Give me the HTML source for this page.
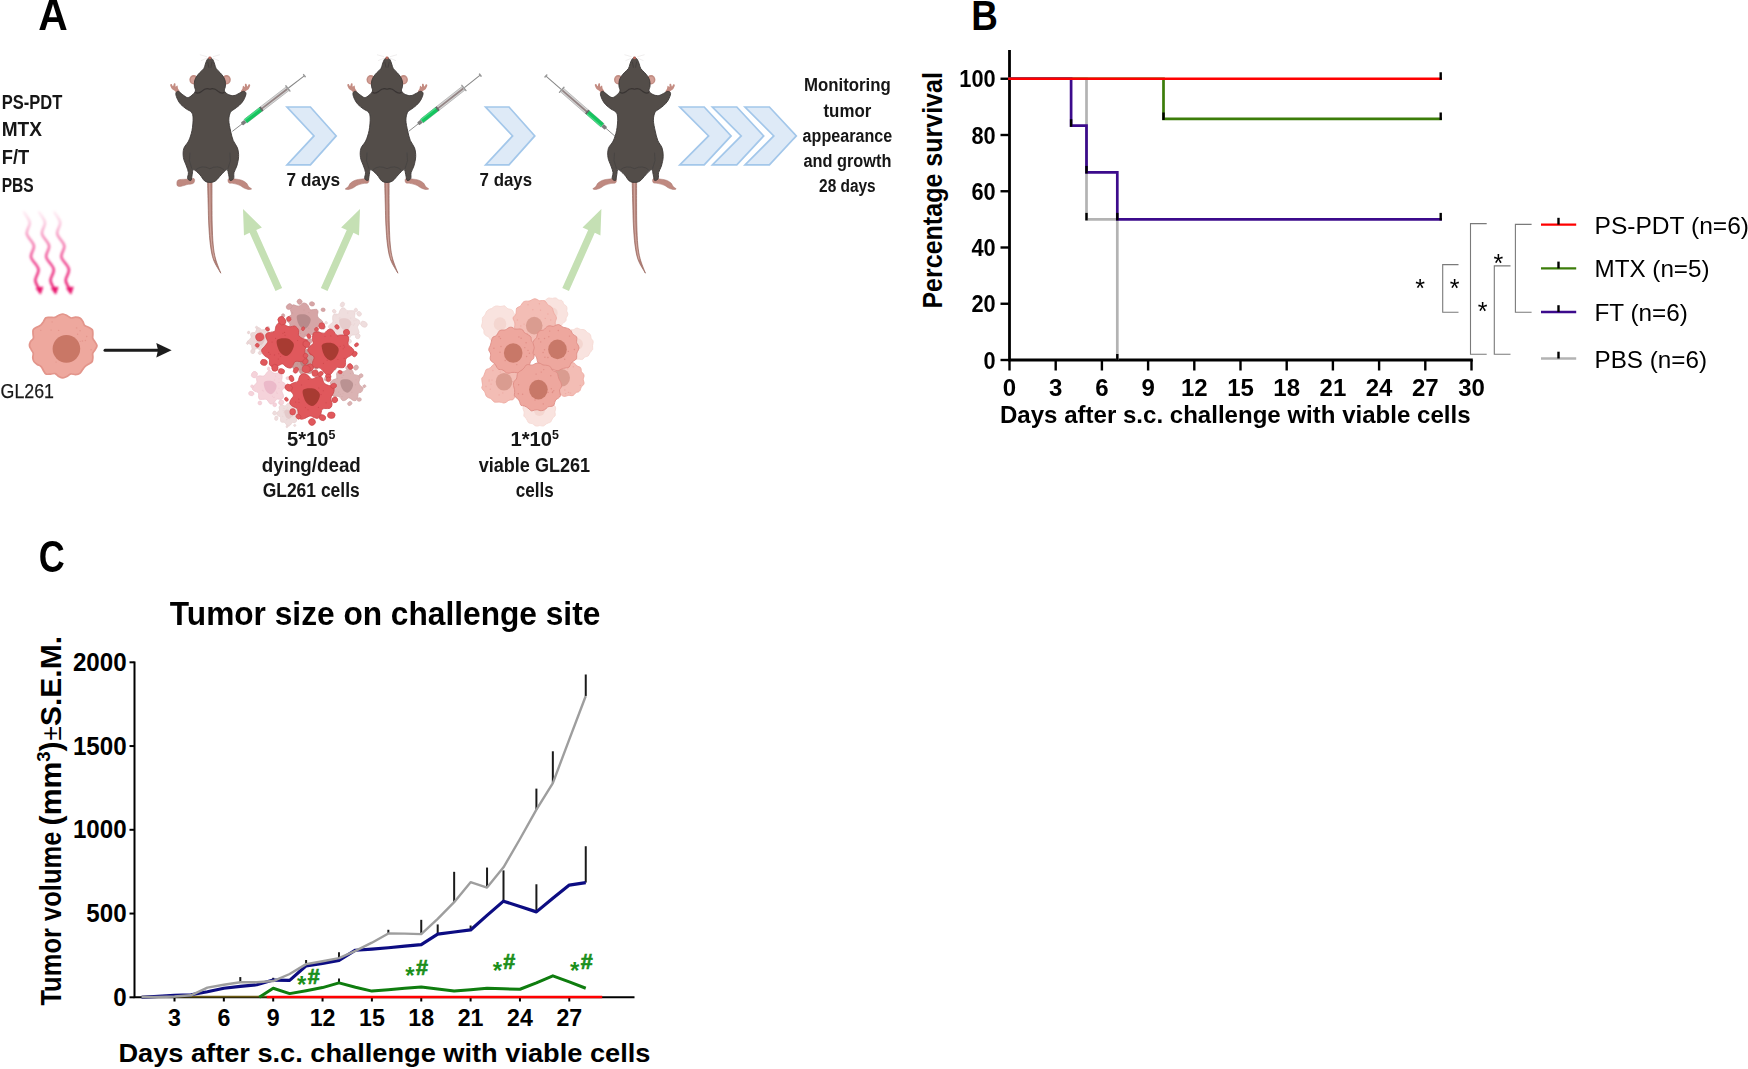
<!DOCTYPE html>
<html lang="en">
<head>
<meta charset="utf-8">
<title>Figure</title>
<style>
html,body{margin:0;padding:0;background:#fff;}
body{width:1748px;height:1069px;overflow:hidden;}
svg{display:block;font-family:"Liberation Sans", sans-serif;}
</style>
</head>
<body>
<svg width="1748" height="1069" viewBox="0 0 1748 1069">
<rect width="1748" height="1069" fill="#fff"/>
<defs>
<filter id="soft" x="-5%" y="-5%" width="110%" height="110%"><feGaussianBlur stdDeviation="0.7"/></filter>
<filter id="soft2" x="-20%" y="-10%" width="140%" height="120%"><feGaussianBlur stdDeviation="0.9"/></filter>
<filter id="tsoft" x="-5%" y="-20%" width="110%" height="140%"><feGaussianBlur stdDeviation="0.5"/></filter>
<linearGradient id="pinkg" gradientUnits="userSpaceOnUse" x1="0" y1="210" x2="0" y2="292"><stop offset="0" stop-color="#f9a8cc" stop-opacity="0.15"/><stop offset="0.3" stop-color="#f47fb2" stop-opacity="0.8"/><stop offset="0.65" stop-color="#ee3f8c"/><stop offset="1" stop-color="#e8156d"/></linearGradient>
</defs>
<g id="panelA">
<g filter="url(#tsoft)">
<text x="38.2" y="29.9" font-size="44.6" font-weight="bold" text-anchor="start" fill="#000" textLength="29.5" lengthAdjust="spacingAndGlyphs">A</text>
<text x="1.7" y="109" font-size="20.3" font-weight="bold" text-anchor="start" fill="#141414" textLength="60.6" lengthAdjust="spacingAndGlyphs">PS-PDT</text>
<text x="1.7" y="136.2" font-size="20.3" font-weight="bold" text-anchor="start" fill="#141414" textLength="40.3" lengthAdjust="spacingAndGlyphs">MTX</text>
<text x="1.7" y="163.7" font-size="20.3" font-weight="bold" text-anchor="start" fill="#141414" textLength="27.5" lengthAdjust="spacingAndGlyphs">F/T</text>
<text x="1.7" y="191.5" font-size="20.3" font-weight="bold" text-anchor="start" fill="#141414" textLength="32" lengthAdjust="spacingAndGlyphs">PBS</text>
<text x="0.6" y="398.3" font-size="21" font-weight="normal" text-anchor="start" fill="#1a1a1a" textLength="53.4" lengthAdjust="spacingAndGlyphs" stroke="#1a1a1a" stroke-width="0.25">GL261</text>
<text x="286.6" y="185.6" font-size="18.6" font-weight="bold" text-anchor="start" fill="#141414" textLength="53.6" lengthAdjust="spacingAndGlyphs">7 days</text>
<text x="479.6" y="185.6" font-size="18.6" font-weight="bold" text-anchor="start" fill="#141414" textLength="52.4" lengthAdjust="spacingAndGlyphs">7 days</text>
<text x="847.4" y="91" font-size="17.6" font-weight="bold" text-anchor="middle" fill="#141414" textLength="86.7" lengthAdjust="spacingAndGlyphs">Monitoring</text>
<text x="847.4" y="116.6" font-size="17.6" font-weight="bold" text-anchor="middle" fill="#141414" textLength="47.8" lengthAdjust="spacingAndGlyphs">tumor</text>
<text x="847.4" y="142" font-size="17.6" font-weight="bold" text-anchor="middle" fill="#141414" textLength="89.6" lengthAdjust="spacingAndGlyphs">appearance</text>
<text x="847.4" y="167.3" font-size="17.6" font-weight="bold" text-anchor="middle" fill="#141414" textLength="88" lengthAdjust="spacingAndGlyphs">and growth</text>
<text x="847.4" y="192.4" font-size="17.6" font-weight="bold" text-anchor="middle" fill="#141414" textLength="56.6" lengthAdjust="spacingAndGlyphs">28 days</text>
<text x="287" y="446" font-size="19.5" font-weight="bold" fill="#141414" textLength="48.5" lengthAdjust="spacingAndGlyphs">5*10<tspan font-size="12" dy="-7">5</tspan></text>
<text x="311.3" y="471.7" font-size="19.5" font-weight="bold" text-anchor="middle" fill="#141414" textLength="99" lengthAdjust="spacingAndGlyphs">dying/dead</text>
<text x="311.2" y="496.6" font-size="19.5" font-weight="bold" text-anchor="middle" fill="#141414" textLength="97" lengthAdjust="spacingAndGlyphs">GL261 cells</text>
<text x="510.5" y="446" font-size="19.5" font-weight="bold" fill="#141414" textLength="48.5" lengthAdjust="spacingAndGlyphs">1*10<tspan font-size="12" dy="-7">5</tspan></text>
<text x="534.4" y="471.7" font-size="19.5" font-weight="bold" text-anchor="middle" fill="#141414" textLength="111.5" lengthAdjust="spacingAndGlyphs">viable GL261</text>
<text x="534.8" y="496.6" font-size="19.5" font-weight="bold" text-anchor="middle" fill="#141414" textLength="38" lengthAdjust="spacingAndGlyphs">cells</text>
</g>
<g filter="url(#soft2)">
<path d="M24.00 212.20 C24.97 213.92 29.33 218.92 29.80 222.50 C30.27 226.08 26.12 229.82 26.80 233.70 C27.48 237.58 33.20 241.92 33.90 245.80 C34.60 249.68 30.23 253.10 31.00 257.00 C31.77 260.90 37.78 265.30 38.50 269.20 C39.22 273.10 35.12 277.02 35.30 280.40 C35.48 283.78 38.88 287.98 39.60 289.50" fill="none" stroke="url(#pinkg)" stroke-width="2.5" stroke-linecap="round"/><path d="M36.2 288.3 L42.8 287.1 L40.4 294.1Z" fill="#e8156d" stroke="#e8156d" stroke-width="1" stroke-linejoin="round"/>
<path d="M39.20 212.20 C40.17 213.92 44.53 218.92 45.00 222.50 C45.47 226.08 41.32 229.82 42.00 233.70 C42.68 237.58 48.40 241.92 49.10 245.80 C49.80 249.68 45.43 253.10 46.20 257.00 C46.97 260.90 52.98 265.30 53.70 269.20 C54.42 273.10 50.32 277.02 50.50 280.40 C50.68 283.78 54.08 287.98 54.80 289.50" fill="none" stroke="url(#pinkg)" stroke-width="2.5" stroke-linecap="round"/><path d="M51.4 288.3 L58.0 287.1 L55.6 294.1Z" fill="#e8156d" stroke="#e8156d" stroke-width="1" stroke-linejoin="round"/>
<path d="M54.40 212.20 C55.37 213.92 59.73 218.92 60.20 222.50 C60.67 226.08 56.52 229.82 57.20 233.70 C57.88 237.58 63.60 241.92 64.30 245.80 C65.00 249.68 60.63 253.10 61.40 257.00 C62.17 260.90 68.18 265.30 68.90 269.20 C69.62 273.10 65.52 277.02 65.70 280.40 C65.88 283.78 69.28 287.98 70.00 289.50" fill="none" stroke="url(#pinkg)" stroke-width="2.5" stroke-linecap="round"/><path d="M66.6 288.3 L73.2 287.1 L70.8 294.1Z" fill="#e8156d" stroke="#e8156d" stroke-width="1" stroke-linejoin="round"/>
</g>
<g filter="url(#soft)">
<g transform="translate(63 345.8) scale(1 0.948) translate(-63 -345.8)">
<g opacity="1">
<path d="M96.95 345.80 C96.96 347.20 95.72 348.69 95.02 350.02 C94.32 351.34 93.10 352.41 92.74 353.77 C92.38 355.13 92.96 356.70 92.84 358.16 C92.72 359.62 92.75 361.36 92.00 362.54 C91.25 363.73 89.53 364.39 88.35 365.25 C87.17 366.12 85.92 366.75 84.93 367.73 C83.95 368.71 83.30 369.94 82.45 371.14 C81.60 372.34 80.97 374.10 79.83 374.94 C78.68 375.79 77.07 376.12 75.59 376.20 C74.11 376.28 72.33 375.11 70.94 375.42 C69.54 375.72 68.57 377.31 67.24 378.02 C65.92 378.74 64.42 379.68 63.00 379.69 C61.58 379.70 60.06 378.84 58.75 378.08 C57.44 377.32 56.50 375.52 55.14 375.12 C53.79 374.71 52.18 375.59 50.64 375.65 C49.09 375.71 47.10 376.16 45.87 375.48 C44.64 374.79 44.04 372.84 43.25 371.54 C42.46 370.24 42.12 368.67 41.13 367.67 C40.15 366.66 38.53 366.34 37.34 365.49 C36.15 364.64 34.75 363.74 34.00 362.54 C33.24 361.35 32.93 359.77 32.81 358.30 C32.69 356.84 33.52 355.15 33.27 353.77 C33.02 352.38 31.91 351.30 31.29 349.97 C30.67 348.65 29.68 347.21 29.54 345.80 C29.41 344.39 29.86 342.84 30.50 341.52 C31.14 340.20 32.95 339.22 33.38 337.86 C33.81 336.51 33.09 334.94 33.08 333.41 C33.07 331.87 32.64 329.91 33.31 328.66 C33.99 327.42 35.83 326.74 37.11 325.94 C38.39 325.13 39.95 324.74 41.01 323.81 C42.07 322.88 42.66 321.62 43.47 320.35 C44.29 319.08 44.71 316.92 45.90 316.18 C47.09 315.44 49.10 315.97 50.61 315.89 C52.12 315.82 53.59 316.14 54.95 315.75 C56.30 315.36 57.41 314.11 58.75 313.53 C60.09 312.96 61.59 312.20 63.00 312.28 C64.41 312.36 65.87 313.31 67.19 314.00 C68.50 314.69 69.49 316.15 70.87 316.42 C72.26 316.70 73.98 315.64 75.49 315.66 C76.99 315.67 78.70 315.77 79.92 316.49 C81.15 317.21 82.04 318.69 82.81 319.98 C83.59 321.27 83.61 323.20 84.56 324.24 C85.52 325.27 87.25 325.43 88.53 326.21 C89.82 326.99 91.56 327.69 92.27 328.90 C92.99 330.11 92.75 331.96 92.82 333.45 C92.90 334.94 92.36 336.48 92.72 337.84 C93.08 339.19 94.28 340.26 94.98 341.59 C95.69 342.92 96.95 344.40 96.95 345.80Z" fill="#eea89e" stroke="#e3958b" stroke-width="1.8"/>
<circle cx="80.2" cy="341.1" r="0.7" fill="#e3958b" opacity="0.9"/>
<circle cx="91.1" cy="350.0" r="0.7" fill="#e3958b" opacity="0.9"/>
<circle cx="70.1" cy="361.9" r="0.7" fill="#e3958b" opacity="0.9"/>
<circle cx="51.1" cy="329.2" r="0.7" fill="#e3958b" opacity="0.9"/>
<circle cx="77.6" cy="333.6" r="0.7" fill="#e3958b" opacity="0.9"/>
<circle cx="82.4" cy="340.7" r="0.7" fill="#e3958b" opacity="0.9"/>
<circle cx="40.8" cy="329.5" r="0.7" fill="#e3958b" opacity="0.9"/>
<circle cx="52.1" cy="320.6" r="0.7" fill="#e3958b" opacity="0.9"/>
<circle cx="58.6" cy="329.6" r="0.7" fill="#e3958b" opacity="0.9"/>
<circle cx="80.1" cy="329.9" r="0.7" fill="#e3958b" opacity="0.9"/>
<circle cx="56.1" cy="363.0" r="0.7" fill="#e3958b" opacity="0.9"/>
<circle cx="76.6" cy="326.9" r="0.7" fill="#e3958b" opacity="0.9"/>
<circle cx="86.7" cy="336.0" r="0.7" fill="#e3958b" opacity="0.9"/>
<circle cx="85.4" cy="340.2" r="0.7" fill="#e3958b" opacity="0.9"/>
<ellipse cx="66.4" cy="349" rx="13.8" ry="14.63" fill="#c97766"/>
</g>
</g>
<path d="M105 350.3 H160" stroke="#1c1c1c" stroke-width="3" fill="none" stroke-linecap="round"/><path d="M156.3 343 L171.6 350.3 L156.3 357.6 L158 350.3Z" fill="#1c1c1c"/>
<path d="M0 -3.65 L63.61 -3.65 L63.61 -9.8 L88.01 0 L63.61 9.8 L63.61 3.65 L0 3.65Z" fill="#c5e0b4" transform="translate(278.8 289.5) rotate(-114.00)"/>
<path d="M0 -3.65 L63.61 -3.65 L63.61 -9.8 L88.01 0 L63.61 9.8 L63.61 3.65 L0 3.65Z" fill="#c5e0b4" transform="translate(324.2 289.5) rotate(-66.00)"/>
<path d="M0 -3.65 L63.61 -3.65 L63.61 -9.8 L88.01 0 L63.61 9.8 L63.61 3.65 L0 3.65Z" fill="#c5e0b4" transform="translate(565.6 289.5) rotate(-66.00)"/>
<path d="M287.0 107.0 L310.4 107.0 L336.2 135.9 L310.4 164.8 L287.0 164.8 L314.0 135.9Z" fill="#deeaf7" stroke="#a3c7ea" stroke-width="1.7" stroke-linejoin="miter"/>
<path d="M485.6 107.0 L509.0 107.0 L534.8 135.9 L509.0 164.8 L485.6 164.8 L512.6 135.9Z" fill="#deeaf7" stroke="#a3c7ea" stroke-width="1.7" stroke-linejoin="miter"/>
<path d="M679.8 107.0 L704.2 107.0 L731.1 135.9 L704.2 164.8 L679.8 164.8 L708.6 135.9Z" fill="#deeaf7" stroke="#a3c7ea" stroke-width="1.7" stroke-linejoin="miter"/>
<path d="M712.4 107.0 L736.8 107.0 L763.7 135.9 L736.8 164.8 L712.4 164.8 L741.2 135.9Z" fill="#deeaf7" stroke="#a3c7ea" stroke-width="1.7" stroke-linejoin="miter"/>
<path d="M745.0 107.0 L769.4 107.0 L796.3 135.9 L769.4 164.8 L745.0 164.8 L773.8 135.9Z" fill="#deeaf7" stroke="#a3c7ea" stroke-width="1.7" stroke-linejoin="miter"/>
<g transform="translate(209.9 56.7)">
<path d="M-3 0 L-10 -2 M-3 1.5 L-9 4 M3 0 L10 -2 M3 1.5 L9 4" stroke="#d8d4d4" stroke-width="0.6" fill="none" opacity="0.7"/>
<path d="M-2.30 124.80 C-2.20 128.72 -1.90 141.05 -1.70 148.30 C-1.50 155.55 -1.47 161.63 -1.10 168.30 C-0.73 174.97 -0.30 182.47 0.50 188.30 C1.30 194.13 1.97 198.60 3.70 203.30 C5.43 208.00 9.70 214.30 10.90 216.50 L10.90 216.50 C10.03 214.13 6.97 207.00 5.70 202.30 C4.43 197.60 3.87 193.97 3.30 188.30 C2.73 182.63 2.50 174.97 2.30 168.30 C2.10 161.63 2.13 155.55 2.10 148.30 C2.07 141.05 2.10 128.72 2.10 124.80Z" fill="#b5837a" stroke="#946259" stroke-width="0.7"/>
<path d="M-0.2 126 L0.2 165 Q1.2 190 4.6 203" fill="none" stroke="#dcb5ad" stroke-width="0.9" opacity="0.8"/>
<ellipse cx="-16.2" cy="23" rx="4.3" ry="4.7" fill="#c28d83"/><ellipse cx="16.6" cy="23" rx="4.3" ry="4.7" fill="#c28d83"/>
<ellipse cx="-16.4" cy="23.2" rx="2.6" ry="3.1" fill="#d4a097"/><ellipse cx="16.8" cy="23.2" rx="2.6" ry="3.1" fill="#d4a097"/>
<path d="M-15.90 121.90 C-16.98 121.23 -20.57 122.33 -22.90 122.50 C-25.23 122.67 -28.27 122.57 -29.90 122.90 C-31.53 123.23 -32.27 123.47 -32.70 124.50 C-33.13 125.53 -33.22 128.27 -32.50 129.10 C-31.78 129.93 -30.00 129.70 -28.40 129.50 C-26.80 129.30 -24.90 128.40 -22.90 127.90 C-20.90 127.40 -17.57 127.50 -16.40 126.50 C-15.23 125.50 -14.82 122.57 -15.90 121.90Z" fill="#bf8980" stroke="#a8736b" stroke-width="0.5"/>
<path d="M18.70 122.10 C19.73 121.47 22.93 122.07 25.10 122.30 C27.27 122.53 29.80 122.83 31.70 123.50 C33.60 124.17 35.33 125.23 36.50 126.30 C37.67 127.37 37.83 128.90 38.70 129.90 C39.57 130.90 41.80 131.83 41.70 132.30 C41.60 132.77 39.43 132.90 38.10 132.70 C36.77 132.50 35.03 131.77 33.70 131.10 C32.37 130.43 31.70 129.40 30.10 128.70 C28.50 128.00 25.97 127.33 24.10 126.90 C22.23 126.47 19.80 126.90 18.90 126.10 C18.00 125.30 17.67 122.73 18.70 122.10Z" fill="#bf8980" stroke="#a8736b" stroke-width="0.5"/>
<path d="M-32.50 36.90 C-33.33 36.80 -34.33 34.97 -35.30 34.10 C-36.27 33.23 -37.57 32.67 -38.30 31.70 C-39.03 30.73 -39.70 29.03 -39.70 28.30 C-39.70 27.57 -38.77 27.10 -38.30 27.30 C-37.83 27.50 -37.30 29.57 -36.90 29.50 C-36.50 29.43 -36.30 27.30 -35.90 26.90 C-35.50 26.50 -34.77 26.60 -34.50 27.10 C-34.23 27.60 -34.63 29.60 -34.30 29.90 C-33.97 30.20 -32.90 28.60 -32.50 28.90 C-32.10 29.20 -32.27 30.73 -31.90 31.70 C-31.53 32.67 -30.20 33.83 -30.30 34.70 C-30.40 35.57 -31.67 37.00 -32.50 36.90Z" fill="#c48c82"/>
<path d="M33.10 37.20 C33.93 37.10 34.93 35.27 35.90 34.40 C36.87 33.53 38.17 32.97 38.90 32.00 C39.63 31.03 40.30 29.33 40.30 28.60 C40.30 27.87 39.37 27.40 38.90 27.60 C38.43 27.80 37.90 29.87 37.50 29.80 C37.10 29.73 36.90 27.60 36.50 27.20 C36.10 26.80 35.37 26.90 35.10 27.40 C34.83 27.90 35.23 29.90 34.90 30.20 C34.57 30.50 33.50 28.90 33.10 29.20 C32.70 29.50 32.87 31.03 32.50 32.00 C32.13 32.97 30.80 34.13 30.90 35.00 C31.00 35.87 32.27 37.30 33.10 37.20Z" fill="#c48c82"/>
<path d="M0.00 0.70 C0.93 0.70 2.12 1.80 2.90 2.90 C3.68 4.00 4.13 5.80 4.70 7.30 C5.27 8.80 5.37 10.43 6.30 11.90 C7.23 13.37 9.10 14.73 10.30 16.10 C11.50 17.47 12.67 18.73 13.50 20.10 C14.33 21.47 14.97 22.70 15.30 24.30 C15.63 25.90 15.63 28.03 15.50 29.70 C15.37 31.37 13.98 32.93 14.50 34.30 C15.02 35.67 17.00 37.13 18.60 37.90 C20.20 38.67 22.35 39.10 24.10 38.90 C25.85 38.70 27.53 37.42 29.10 36.70 C30.67 35.98 32.33 34.57 33.50 34.60 C34.67 34.63 36.10 35.37 36.10 36.90 C36.10 38.43 34.67 41.80 33.50 43.80 C32.33 45.80 30.63 47.45 29.10 48.90 C27.57 50.35 25.73 51.37 24.30 52.50 C22.87 53.63 21.40 53.87 20.50 55.70 C19.60 57.53 18.87 60.40 18.90 63.50 C18.93 66.60 19.97 70.92 20.70 74.30 C21.43 77.68 22.17 81.00 23.30 83.80 C24.43 86.60 26.60 88.42 27.50 91.10 C28.40 93.78 28.80 96.87 28.70 99.90 C28.60 102.93 27.67 106.63 26.90 109.30 C26.13 111.97 24.63 113.80 24.10 115.90 C23.57 118.00 24.37 120.60 23.70 121.90 C23.03 123.20 20.93 124.38 20.10 123.70 C19.27 123.02 19.22 119.60 18.70 117.80 C18.18 116.00 18.25 112.83 17.00 112.90 C15.75 112.97 13.10 116.32 11.20 118.20 C9.30 120.08 7.47 122.95 5.60 124.20 C3.73 125.45 1.82 125.70 0.00 125.70 C-1.82 125.70 -3.65 125.45 -5.30 124.20 C-6.95 122.95 -8.07 120.08 -9.90 118.20 C-11.73 116.32 -15.00 112.97 -16.30 112.90 C-17.60 112.83 -17.27 116.00 -17.70 117.80 C-18.13 119.60 -18.13 123.02 -18.90 123.70 C-19.67 124.38 -21.87 123.20 -22.30 121.90 C-22.73 120.60 -21.30 118.00 -21.50 115.90 C-21.70 113.80 -22.67 111.80 -23.50 109.30 C-24.33 106.80 -26.07 103.83 -26.50 100.90 C-26.93 97.97 -26.97 94.47 -26.10 91.70 C-25.23 88.93 -22.67 87.28 -21.30 84.30 C-19.93 81.32 -18.65 77.63 -17.90 73.80 C-17.15 69.97 -16.70 64.35 -16.80 61.30 C-16.90 58.25 -17.38 57.00 -18.50 55.50 C-19.62 54.00 -21.77 53.57 -23.50 52.30 C-25.23 51.03 -27.43 49.48 -28.90 47.90 C-30.37 46.32 -31.43 44.63 -32.30 42.80 C-33.17 40.97 -34.20 38.27 -34.10 36.90 C-34.00 35.53 -32.83 34.43 -31.70 34.60 C-30.57 34.77 -28.85 36.85 -27.30 37.90 C-25.75 38.95 -23.97 40.80 -22.40 40.90 C-20.83 41.00 -19.22 39.60 -17.90 38.50 C-16.58 37.40 -14.90 35.77 -14.50 34.30 C-14.10 32.83 -15.37 31.37 -15.50 29.70 C-15.63 28.03 -15.63 25.90 -15.30 24.30 C-14.97 22.70 -14.33 21.47 -13.50 20.10 C-12.67 18.73 -11.53 17.47 -10.30 16.10 C-9.07 14.73 -7.07 13.37 -6.10 11.90 C-5.13 10.43 -5.07 8.80 -4.50 7.30 C-3.93 5.80 -3.45 4.00 -2.70 2.90 C-1.95 1.80 -0.93 0.70 0.00 0.70Z" fill="#524d4a" stroke="#3d3836" stroke-width="0.9" stroke-linejoin="round"/>
<ellipse cx="0" cy="1.2" rx="1.5" ry="1.3" fill="#b9675c"/>
<path d="M-14.5 35.5 Q-12 37.6 -8 34.5 Q-4 30.5 0 32.5 Q4 30.5 8 34.5 Q12 37.6 14.5 35.5" fill="none" stroke="#2f2a28" stroke-width="1.2" opacity="0.7"/>
<path d="M-2.2 5 L-1 11 M2.2 5 L1 11" fill="none" stroke="#3a3533" stroke-width="0.9" opacity="0.6"/>
<path d="M-14 113 Q-8 108 0 112 Q8 108 14 113" fill="none" stroke="#3f3a38" stroke-width="1" opacity="0.5"/>
<path d="M-20 96 Q-22 104 -18 112 M20 96 Q22 104 18 112" fill="none" stroke="#3f3a38" stroke-width="0.9" opacity="0.5"/>
</g>
<g transform="translate(232.3 131.4) rotate(-37.69) scale(0.9995)">
<line x1="0" y1="0" x2="13" y2="0" stroke="#8c8c8c" stroke-width="0.9"/>
<rect x="12" y="-1.8" width="5" height="3.6" rx="1" fill="#7d7d7d"/>
<rect x="16.5" y="-2.3" width="54" height="4.6" rx="0.8" fill="#d6d6d6" stroke="#a5a5a5" stroke-width="0.6"/>
<rect x="36.5" y="-0.9" width="33" height="1.8" fill="#948585"/>
<rect x="16.8" y="-2.3" width="19.6" height="4.6" fill="#12c45e"/>
<rect x="16.8" y="-2.3" width="19.6" height="1.4" fill="#55e08f" opacity="0.8"/>
<rect x="35.8" y="-2.4" width="1.8" height="4.8" fill="#666"/>
<rect x="69.6" y="-4" width="1.4" height="8" rx="0.6" fill="#9a9a9a"/>
<line x1="71" y1="0" x2="91" y2="0" stroke="#858585" stroke-width="1"/>
<rect x="90.4" y="-2" width="1.5" height="4" rx="0.6" fill="#9a9a9a"/>
</g>
<g transform="translate(387 56.7)">
<path d="M-3 0 L-10 -2 M-3 1.5 L-9 4 M3 0 L10 -2 M3 1.5 L9 4" stroke="#d8d4d4" stroke-width="0.6" fill="none" opacity="0.7"/>
<path d="M-2.30 124.80 C-2.20 128.72 -1.90 141.05 -1.70 148.30 C-1.50 155.55 -1.47 161.63 -1.10 168.30 C-0.73 174.97 -0.30 182.47 0.50 188.30 C1.30 194.13 1.97 198.60 3.70 203.30 C5.43 208.00 9.70 214.30 10.90 216.50 L10.90 216.50 C10.03 214.13 6.97 207.00 5.70 202.30 C4.43 197.60 3.87 193.97 3.30 188.30 C2.73 182.63 2.50 174.97 2.30 168.30 C2.10 161.63 2.13 155.55 2.10 148.30 C2.07 141.05 2.10 128.72 2.10 124.80Z" fill="#b5837a" stroke="#946259" stroke-width="0.7"/>
<path d="M-0.2 126 L0.2 165 Q1.2 190 4.6 203" fill="none" stroke="#dcb5ad" stroke-width="0.9" opacity="0.8"/>
<ellipse cx="-16.2" cy="23" rx="4.3" ry="4.7" fill="#c28d83"/><ellipse cx="16.6" cy="23" rx="4.3" ry="4.7" fill="#c28d83"/>
<ellipse cx="-16.4" cy="23.2" rx="2.6" ry="3.1" fill="#d4a097"/><ellipse cx="16.8" cy="23.2" rx="2.6" ry="3.1" fill="#d4a097"/>
<path d="M-18.70 122.10 C-19.73 121.47 -22.93 122.07 -25.10 122.30 C-27.27 122.53 -29.80 122.83 -31.70 123.50 C-33.60 124.17 -35.33 125.23 -36.50 126.30 C-37.67 127.37 -37.83 128.90 -38.70 129.90 C-39.57 130.90 -41.80 131.83 -41.70 132.30 C-41.60 132.77 -39.43 132.90 -38.10 132.70 C-36.77 132.50 -35.03 131.77 -33.70 131.10 C-32.37 130.43 -31.70 129.40 -30.10 128.70 C-28.50 128.00 -25.97 127.33 -24.10 126.90 C-22.23 126.47 -19.80 126.90 -18.90 126.10 C-18.00 125.30 -17.67 122.73 -18.70 122.10Z" fill="#bf8980" stroke="#a8736b" stroke-width="0.5"/>
<path d="M18.70 122.10 C19.73 121.47 22.93 122.07 25.10 122.30 C27.27 122.53 29.80 122.83 31.70 123.50 C33.60 124.17 35.33 125.23 36.50 126.30 C37.67 127.37 37.83 128.90 38.70 129.90 C39.57 130.90 41.80 131.83 41.70 132.30 C41.60 132.77 39.43 132.90 38.10 132.70 C36.77 132.50 35.03 131.77 33.70 131.10 C32.37 130.43 31.70 129.40 30.10 128.70 C28.50 128.00 25.97 127.33 24.10 126.90 C22.23 126.47 19.80 126.90 18.90 126.10 C18.00 125.30 17.67 122.73 18.70 122.10Z" fill="#bf8980" stroke="#a8736b" stroke-width="0.5"/>
<path d="M-32.50 36.90 C-33.33 36.80 -34.33 34.97 -35.30 34.10 C-36.27 33.23 -37.57 32.67 -38.30 31.70 C-39.03 30.73 -39.70 29.03 -39.70 28.30 C-39.70 27.57 -38.77 27.10 -38.30 27.30 C-37.83 27.50 -37.30 29.57 -36.90 29.50 C-36.50 29.43 -36.30 27.30 -35.90 26.90 C-35.50 26.50 -34.77 26.60 -34.50 27.10 C-34.23 27.60 -34.63 29.60 -34.30 29.90 C-33.97 30.20 -32.90 28.60 -32.50 28.90 C-32.10 29.20 -32.27 30.73 -31.90 31.70 C-31.53 32.67 -30.20 33.83 -30.30 34.70 C-30.40 35.57 -31.67 37.00 -32.50 36.90Z" fill="#c48c82"/>
<path d="M33.10 37.20 C33.93 37.10 34.93 35.27 35.90 34.40 C36.87 33.53 38.17 32.97 38.90 32.00 C39.63 31.03 40.30 29.33 40.30 28.60 C40.30 27.87 39.37 27.40 38.90 27.60 C38.43 27.80 37.90 29.87 37.50 29.80 C37.10 29.73 36.90 27.60 36.50 27.20 C36.10 26.80 35.37 26.90 35.10 27.40 C34.83 27.90 35.23 29.90 34.90 30.20 C34.57 30.50 33.50 28.90 33.10 29.20 C32.70 29.50 32.87 31.03 32.50 32.00 C32.13 32.97 30.80 34.13 30.90 35.00 C31.00 35.87 32.27 37.30 33.10 37.20Z" fill="#c48c82"/>
<path d="M0.00 0.70 C0.93 0.70 2.12 1.80 2.90 2.90 C3.68 4.00 4.13 5.80 4.70 7.30 C5.27 8.80 5.37 10.43 6.30 11.90 C7.23 13.37 9.10 14.73 10.30 16.10 C11.50 17.47 12.67 18.73 13.50 20.10 C14.33 21.47 14.97 22.70 15.30 24.30 C15.63 25.90 15.63 28.03 15.50 29.70 C15.37 31.37 13.98 32.93 14.50 34.30 C15.02 35.67 17.00 37.13 18.60 37.90 C20.20 38.67 22.35 39.10 24.10 38.90 C25.85 38.70 27.53 37.42 29.10 36.70 C30.67 35.98 32.33 34.57 33.50 34.60 C34.67 34.63 36.10 35.37 36.10 36.90 C36.10 38.43 34.67 41.80 33.50 43.80 C32.33 45.80 30.63 47.45 29.10 48.90 C27.57 50.35 25.73 51.37 24.30 52.50 C22.87 53.63 21.40 53.87 20.50 55.70 C19.60 57.53 18.87 60.40 18.90 63.50 C18.93 66.60 19.97 70.92 20.70 74.30 C21.43 77.68 22.17 81.00 23.30 83.80 C24.43 86.60 26.60 88.42 27.50 91.10 C28.40 93.78 28.80 96.87 28.70 99.90 C28.60 102.93 27.67 106.63 26.90 109.30 C26.13 111.97 24.63 113.80 24.10 115.90 C23.57 118.00 24.37 120.60 23.70 121.90 C23.03 123.20 20.93 124.38 20.10 123.70 C19.27 123.02 19.22 119.60 18.70 117.80 C18.18 116.00 18.25 112.83 17.00 112.90 C15.75 112.97 13.10 116.32 11.20 118.20 C9.30 120.08 7.47 122.95 5.60 124.20 C3.73 125.45 1.82 125.70 0.00 125.70 C-1.82 125.70 -3.65 125.45 -5.30 124.20 C-6.95 122.95 -8.07 120.08 -9.90 118.20 C-11.73 116.32 -15.00 112.97 -16.30 112.90 C-17.60 112.83 -17.27 116.00 -17.70 117.80 C-18.13 119.60 -18.13 123.02 -18.90 123.70 C-19.67 124.38 -21.87 123.20 -22.30 121.90 C-22.73 120.60 -21.30 118.00 -21.50 115.90 C-21.70 113.80 -22.67 111.80 -23.50 109.30 C-24.33 106.80 -26.07 103.83 -26.50 100.90 C-26.93 97.97 -26.97 94.47 -26.10 91.70 C-25.23 88.93 -22.67 87.28 -21.30 84.30 C-19.93 81.32 -18.65 77.63 -17.90 73.80 C-17.15 69.97 -16.70 64.35 -16.80 61.30 C-16.90 58.25 -17.38 57.00 -18.50 55.50 C-19.62 54.00 -21.77 53.57 -23.50 52.30 C-25.23 51.03 -27.43 49.48 -28.90 47.90 C-30.37 46.32 -31.43 44.63 -32.30 42.80 C-33.17 40.97 -34.20 38.27 -34.10 36.90 C-34.00 35.53 -32.83 34.43 -31.70 34.60 C-30.57 34.77 -28.85 36.85 -27.30 37.90 C-25.75 38.95 -23.97 40.80 -22.40 40.90 C-20.83 41.00 -19.22 39.60 -17.90 38.50 C-16.58 37.40 -14.90 35.77 -14.50 34.30 C-14.10 32.83 -15.37 31.37 -15.50 29.70 C-15.63 28.03 -15.63 25.90 -15.30 24.30 C-14.97 22.70 -14.33 21.47 -13.50 20.10 C-12.67 18.73 -11.53 17.47 -10.30 16.10 C-9.07 14.73 -7.07 13.37 -6.10 11.90 C-5.13 10.43 -5.07 8.80 -4.50 7.30 C-3.93 5.80 -3.45 4.00 -2.70 2.90 C-1.95 1.80 -0.93 0.70 0.00 0.70Z" fill="#524d4a" stroke="#3d3836" stroke-width="0.9" stroke-linejoin="round"/>
<ellipse cx="0" cy="1.2" rx="1.5" ry="1.3" fill="#b9675c"/>
<path d="M-14.5 35.5 Q-12 37.6 -8 34.5 Q-4 30.5 0 32.5 Q4 30.5 8 34.5 Q12 37.6 14.5 35.5" fill="none" stroke="#2f2a28" stroke-width="1.2" opacity="0.7"/>
<path d="M-2.2 5 L-1 11 M2.2 5 L1 11" fill="none" stroke="#3a3533" stroke-width="0.9" opacity="0.6"/>
<path d="M-14 113 Q-8 108 0 112 Q8 108 14 113" fill="none" stroke="#3f3a38" stroke-width="1" opacity="0.5"/>
<path d="M-20 96 Q-22 104 -18 112 M20 96 Q22 104 18 112" fill="none" stroke="#3f3a38" stroke-width="0.9" opacity="0.5"/>
</g>
<g transform="translate(408.6 131.4) rotate(-38.14) scale(1.0000)">
<line x1="0" y1="0" x2="13" y2="0" stroke="#8c8c8c" stroke-width="0.9"/>
<rect x="12" y="-1.8" width="5" height="3.6" rx="1" fill="#7d7d7d"/>
<rect x="16.5" y="-2.3" width="54" height="4.6" rx="0.8" fill="#d6d6d6" stroke="#a5a5a5" stroke-width="0.6"/>
<rect x="36.5" y="-0.9" width="33" height="1.8" fill="#948585"/>
<rect x="16.8" y="-2.3" width="19.6" height="4.6" fill="#12c45e"/>
<rect x="16.8" y="-2.3" width="19.6" height="1.4" fill="#55e08f" opacity="0.8"/>
<rect x="35.8" y="-2.4" width="1.8" height="4.8" fill="#666"/>
<rect x="69.6" y="-4" width="1.4" height="8" rx="0.6" fill="#9a9a9a"/>
<line x1="71" y1="0" x2="91" y2="0" stroke="#858585" stroke-width="1"/>
<rect x="90.4" y="-2" width="1.5" height="4" rx="0.6" fill="#9a9a9a"/>
</g>
<g transform="translate(615.2 136.4) rotate(-138.92) scale(1.0090)">
<line x1="0" y1="0" x2="13" y2="0" stroke="#8c8c8c" stroke-width="0.9"/>
<rect x="12" y="-1.8" width="5" height="3.6" rx="1" fill="#7d7d7d"/>
<rect x="16.5" y="-2.3" width="54" height="4.6" rx="0.8" fill="#d6d6d6" stroke="#a5a5a5" stroke-width="0.6"/>
<rect x="36.5" y="-0.9" width="33" height="1.8" fill="#948585"/>
<rect x="16.8" y="-2.3" width="19.6" height="4.6" fill="#12c45e"/>
<rect x="16.8" y="-2.3" width="19.6" height="1.4" fill="#55e08f" opacity="0.8"/>
<rect x="35.8" y="-2.4" width="1.8" height="4.8" fill="#666"/>
<rect x="69.6" y="-4" width="1.4" height="8" rx="0.6" fill="#9a9a9a"/>
<line x1="71" y1="0" x2="91" y2="0" stroke="#858585" stroke-width="1"/>
<rect x="90.4" y="-2" width="1.5" height="4" rx="0.6" fill="#9a9a9a"/>
</g>
<g transform="translate(634.5 56.7)">
<path d="M-3 0 L-10 -2 M-3 1.5 L-9 4 M3 0 L10 -2 M3 1.5 L9 4" stroke="#d8d4d4" stroke-width="0.6" fill="none" opacity="0.7"/>
<path d="M-2.30 124.80 C-2.20 128.72 -1.90 141.05 -1.70 148.30 C-1.50 155.55 -1.47 161.63 -1.10 168.30 C-0.73 174.97 -0.30 182.47 0.50 188.30 C1.30 194.13 1.97 198.60 3.70 203.30 C5.43 208.00 9.70 214.30 10.90 216.50 L10.90 216.50 C10.03 214.13 6.97 207.00 5.70 202.30 C4.43 197.60 3.87 193.97 3.30 188.30 C2.73 182.63 2.50 174.97 2.30 168.30 C2.10 161.63 2.13 155.55 2.10 148.30 C2.07 141.05 2.10 128.72 2.10 124.80Z" fill="#b5837a" stroke="#946259" stroke-width="0.7"/>
<path d="M-0.2 126 L0.2 165 Q1.2 190 4.6 203" fill="none" stroke="#dcb5ad" stroke-width="0.9" opacity="0.8"/>
<ellipse cx="-16.2" cy="23" rx="4.3" ry="4.7" fill="#c28d83"/><ellipse cx="16.6" cy="23" rx="4.3" ry="4.7" fill="#c28d83"/>
<ellipse cx="-16.4" cy="23.2" rx="2.6" ry="3.1" fill="#d4a097"/><ellipse cx="16.8" cy="23.2" rx="2.6" ry="3.1" fill="#d4a097"/>
<path d="M-18.70 122.10 C-19.73 121.47 -22.93 122.07 -25.10 122.30 C-27.27 122.53 -29.80 122.83 -31.70 123.50 C-33.60 124.17 -35.33 125.23 -36.50 126.30 C-37.67 127.37 -37.83 128.90 -38.70 129.90 C-39.57 130.90 -41.80 131.83 -41.70 132.30 C-41.60 132.77 -39.43 132.90 -38.10 132.70 C-36.77 132.50 -35.03 131.77 -33.70 131.10 C-32.37 130.43 -31.70 129.40 -30.10 128.70 C-28.50 128.00 -25.97 127.33 -24.10 126.90 C-22.23 126.47 -19.80 126.90 -18.90 126.10 C-18.00 125.30 -17.67 122.73 -18.70 122.10Z" fill="#bf8980" stroke="#a8736b" stroke-width="0.5"/>
<path d="M18.70 122.10 C19.73 121.47 22.93 122.07 25.10 122.30 C27.27 122.53 29.80 122.83 31.70 123.50 C33.60 124.17 35.33 125.23 36.50 126.30 C37.67 127.37 37.83 128.90 38.70 129.90 C39.57 130.90 41.80 131.83 41.70 132.30 C41.60 132.77 39.43 132.90 38.10 132.70 C36.77 132.50 35.03 131.77 33.70 131.10 C32.37 130.43 31.70 129.40 30.10 128.70 C28.50 128.00 25.97 127.33 24.10 126.90 C22.23 126.47 19.80 126.90 18.90 126.10 C18.00 125.30 17.67 122.73 18.70 122.10Z" fill="#bf8980" stroke="#a8736b" stroke-width="0.5"/>
<path d="M-32.50 36.90 C-33.33 36.80 -34.33 34.97 -35.30 34.10 C-36.27 33.23 -37.57 32.67 -38.30 31.70 C-39.03 30.73 -39.70 29.03 -39.70 28.30 C-39.70 27.57 -38.77 27.10 -38.30 27.30 C-37.83 27.50 -37.30 29.57 -36.90 29.50 C-36.50 29.43 -36.30 27.30 -35.90 26.90 C-35.50 26.50 -34.77 26.60 -34.50 27.10 C-34.23 27.60 -34.63 29.60 -34.30 29.90 C-33.97 30.20 -32.90 28.60 -32.50 28.90 C-32.10 29.20 -32.27 30.73 -31.90 31.70 C-31.53 32.67 -30.20 33.83 -30.30 34.70 C-30.40 35.57 -31.67 37.00 -32.50 36.90Z" fill="#c48c82"/>
<path d="M33.10 37.20 C33.93 37.10 34.93 35.27 35.90 34.40 C36.87 33.53 38.17 32.97 38.90 32.00 C39.63 31.03 40.30 29.33 40.30 28.60 C40.30 27.87 39.37 27.40 38.90 27.60 C38.43 27.80 37.90 29.87 37.50 29.80 C37.10 29.73 36.90 27.60 36.50 27.20 C36.10 26.80 35.37 26.90 35.10 27.40 C34.83 27.90 35.23 29.90 34.90 30.20 C34.57 30.50 33.50 28.90 33.10 29.20 C32.70 29.50 32.87 31.03 32.50 32.00 C32.13 32.97 30.80 34.13 30.90 35.00 C31.00 35.87 32.27 37.30 33.10 37.20Z" fill="#c48c82"/>
<path d="M0.00 0.70 C0.93 0.70 2.12 1.80 2.90 2.90 C3.68 4.00 4.13 5.80 4.70 7.30 C5.27 8.80 5.37 10.43 6.30 11.90 C7.23 13.37 9.10 14.73 10.30 16.10 C11.50 17.47 12.67 18.73 13.50 20.10 C14.33 21.47 14.97 22.70 15.30 24.30 C15.63 25.90 15.63 28.03 15.50 29.70 C15.37 31.37 13.98 32.93 14.50 34.30 C15.02 35.67 17.00 37.13 18.60 37.90 C20.20 38.67 22.35 39.10 24.10 38.90 C25.85 38.70 27.53 37.42 29.10 36.70 C30.67 35.98 32.33 34.57 33.50 34.60 C34.67 34.63 36.10 35.37 36.10 36.90 C36.10 38.43 34.67 41.80 33.50 43.80 C32.33 45.80 30.63 47.45 29.10 48.90 C27.57 50.35 25.73 51.37 24.30 52.50 C22.87 53.63 21.40 53.87 20.50 55.70 C19.60 57.53 18.87 60.40 18.90 63.50 C18.93 66.60 19.97 70.92 20.70 74.30 C21.43 77.68 22.17 81.00 23.30 83.80 C24.43 86.60 26.60 88.42 27.50 91.10 C28.40 93.78 28.80 96.87 28.70 99.90 C28.60 102.93 27.67 106.63 26.90 109.30 C26.13 111.97 24.63 113.80 24.10 115.90 C23.57 118.00 24.37 120.60 23.70 121.90 C23.03 123.20 20.93 124.38 20.10 123.70 C19.27 123.02 19.22 119.60 18.70 117.80 C18.18 116.00 18.25 112.83 17.00 112.90 C15.75 112.97 13.10 116.32 11.20 118.20 C9.30 120.08 7.47 122.95 5.60 124.20 C3.73 125.45 1.82 125.70 0.00 125.70 C-1.82 125.70 -3.65 125.45 -5.30 124.20 C-6.95 122.95 -8.07 120.08 -9.90 118.20 C-11.73 116.32 -15.00 112.97 -16.30 112.90 C-17.60 112.83 -17.27 116.00 -17.70 117.80 C-18.13 119.60 -18.13 123.02 -18.90 123.70 C-19.67 124.38 -21.87 123.20 -22.30 121.90 C-22.73 120.60 -21.30 118.00 -21.50 115.90 C-21.70 113.80 -22.67 111.80 -23.50 109.30 C-24.33 106.80 -26.07 103.83 -26.50 100.90 C-26.93 97.97 -26.97 94.47 -26.10 91.70 C-25.23 88.93 -22.67 87.28 -21.30 84.30 C-19.93 81.32 -18.65 77.63 -17.90 73.80 C-17.15 69.97 -16.70 64.35 -16.80 61.30 C-16.90 58.25 -17.38 57.00 -18.50 55.50 C-19.62 54.00 -21.77 53.57 -23.50 52.30 C-25.23 51.03 -27.43 49.48 -28.90 47.90 C-30.37 46.32 -31.43 44.63 -32.30 42.80 C-33.17 40.97 -34.20 38.27 -34.10 36.90 C-34.00 35.53 -32.83 34.43 -31.70 34.60 C-30.57 34.77 -28.85 36.85 -27.30 37.90 C-25.75 38.95 -23.97 40.80 -22.40 40.90 C-20.83 41.00 -19.22 39.60 -17.90 38.50 C-16.58 37.40 -14.90 35.77 -14.50 34.30 C-14.10 32.83 -15.37 31.37 -15.50 29.70 C-15.63 28.03 -15.63 25.90 -15.30 24.30 C-14.97 22.70 -14.33 21.47 -13.50 20.10 C-12.67 18.73 -11.53 17.47 -10.30 16.10 C-9.07 14.73 -7.07 13.37 -6.10 11.90 C-5.13 10.43 -5.07 8.80 -4.50 7.30 C-3.93 5.80 -3.45 4.00 -2.70 2.90 C-1.95 1.80 -0.93 0.70 0.00 0.70Z" fill="#524d4a" stroke="#3d3836" stroke-width="0.9" stroke-linejoin="round"/>
<ellipse cx="0" cy="1.2" rx="1.5" ry="1.3" fill="#b9675c"/>
<path d="M-14.5 35.5 Q-12 37.6 -8 34.5 Q-4 30.5 0 32.5 Q4 30.5 8 34.5 Q12 37.6 14.5 35.5" fill="none" stroke="#2f2a28" stroke-width="1.2" opacity="0.7"/>
<path d="M-2.2 5 L-1 11 M2.2 5 L1 11" fill="none" stroke="#3a3533" stroke-width="0.9" opacity="0.6"/>
<path d="M-14 113 Q-8 108 0 112 Q8 108 14 113" fill="none" stroke="#3f3a38" stroke-width="1" opacity="0.5"/>
<path d="M-20 96 Q-22 104 -18 112 M20 96 Q22 104 18 112" fill="none" stroke="#3f3a38" stroke-width="0.9" opacity="0.5"/>
</g>
<g opacity="1">
<path d="M270.73 340.00 C270.48 340.51 270.08 340.96 269.85 341.42 C269.63 341.88 269.32 342.21 269.38 342.75 C269.43 343.29 269.99 343.98 270.20 344.66 C270.40 345.33 270.76 346.25 270.61 346.82 C270.45 347.38 269.82 347.76 269.27 348.03 C268.71 348.29 267.91 348.32 267.28 348.40 C266.64 348.48 265.95 348.31 265.46 348.50 C264.98 348.69 264.74 349.17 264.35 349.53 C263.96 349.88 263.57 350.32 263.12 350.62 C262.67 350.93 262.15 351.43 261.63 351.36 C261.11 351.30 260.49 350.61 260.00 350.25 C259.51 349.88 259.10 349.45 258.68 349.18 C258.26 348.91 257.93 348.67 257.46 348.64 C257.00 348.60 256.55 348.75 255.90 348.97 C255.26 349.19 254.22 349.95 253.59 349.97 C252.97 349.98 252.45 349.53 252.16 349.05 C251.87 348.57 251.95 347.67 251.84 347.07 C251.72 346.48 251.71 345.93 251.47 345.48 C251.23 345.03 250.87 344.74 250.40 344.39 C249.92 344.03 249.11 343.77 248.63 343.34 C248.14 342.91 247.46 342.36 247.48 341.80 C247.50 341.24 248.25 340.53 248.73 340.00 C249.21 339.47 249.95 339.05 250.35 338.61 C250.74 338.18 251.02 337.85 251.12 337.39 C251.22 336.93 251.02 336.43 250.94 335.86 C250.85 335.29 250.46 334.46 250.59 333.95 C250.73 333.45 251.26 333.09 251.75 332.85 C252.23 332.60 252.93 332.56 253.49 332.49 C254.05 332.42 254.73 332.66 255.12 332.41 C255.52 332.16 255.61 331.56 255.88 330.98 C256.15 330.41 256.37 329.53 256.76 328.97 C257.15 328.42 257.68 327.76 258.22 327.65 C258.76 327.54 259.46 327.95 260.00 328.29 C260.54 328.63 260.98 329.44 261.48 329.69 C261.98 329.94 262.44 329.83 263.00 329.79 C263.56 329.75 264.21 329.47 264.83 329.43 C265.45 329.39 266.23 329.28 266.72 329.55 C267.21 329.82 267.62 330.39 267.77 331.04 C267.91 331.69 267.63 332.74 267.56 333.45 C267.50 334.15 267.26 334.79 267.40 335.25 C267.53 335.70 267.95 335.87 268.38 336.17 C268.81 336.48 269.47 336.71 269.97 337.07 C270.48 337.44 271.27 337.87 271.40 338.36 C271.52 338.85 270.99 339.49 270.73 340.00Z" fill="#ecd9d9" stroke="#e6cfcf" stroke-width="0.8"/>
<ellipse cx="274.4" cy="342.4" rx="1.4" ry="1.8" transform="rotate(153 274.4 342.4)" fill="#ecd9d9" stroke="#e6cfcf" stroke-width="0.6"/>
<ellipse cx="270.0" cy="348.4" rx="2.0" ry="2.0" transform="rotate(176 270.0 348.4)" fill="#ecd9d9" stroke="#e6cfcf" stroke-width="0.6"/>
<ellipse cx="260.1" cy="352.7" rx="1.7" ry="2.0" transform="rotate(49 260.1 352.7)" fill="#ecd9d9" stroke="#e6cfcf" stroke-width="0.6"/>
<ellipse cx="252.9" cy="351.3" rx="2.1" ry="2.4" transform="rotate(21 252.9 351.3)" fill="#ecd9d9" stroke="#e6cfcf" stroke-width="0.6"/>
<ellipse cx="247.6" cy="343.1" rx="1.1" ry="1.3" transform="rotate(32 247.6 343.1)" fill="#ecd9d9" stroke="#e6cfcf" stroke-width="0.6"/>
<ellipse cx="248.6" cy="332.5" rx="1.2" ry="1.4" transform="rotate(24 248.6 332.5)" fill="#ecd9d9" stroke="#e6cfcf" stroke-width="0.6"/>
<ellipse cx="256.8" cy="327.6" rx="1.5" ry="1.2" transform="rotate(49 256.8 327.6)" fill="#ecd9d9" stroke="#e6cfcf" stroke-width="0.6"/>
<ellipse cx="268.0" cy="327.9" rx="1.3" ry="1.7" transform="rotate(38 268.0 327.9)" fill="#ecd9d9" stroke="#e6cfcf" stroke-width="0.6"/>
<ellipse cx="272.6" cy="332.6" rx="1.7" ry="1.3" transform="rotate(178 272.6 332.6)" fill="#ecd9d9" stroke="#e6cfcf" stroke-width="0.6"/>
<circle cx="261.4" cy="346.0" r="0.55" fill="#e6cfcf" opacity="0.8"/>
<circle cx="260.9" cy="333.6" r="0.55" fill="#e6cfcf" opacity="0.8"/>
<circle cx="258.5" cy="345.1" r="0.55" fill="#e6cfcf" opacity="0.8"/>
<circle cx="266.4" cy="344.0" r="0.55" fill="#e6cfcf" opacity="0.8"/>
<circle cx="260.3" cy="347.6" r="0.55" fill="#e6cfcf" opacity="0.8"/>
<circle cx="255.2" cy="345.0" r="0.55" fill="#e6cfcf" opacity="0.8"/>
<circle cx="266.9" cy="338.2" r="0.55" fill="#e6cfcf" opacity="0.8"/>
<circle cx="252.1" cy="336.0" r="0.55" fill="#e6cfcf" opacity="0.8"/>
<circle cx="262.3" cy="345.2" r="0.55" fill="#e6cfcf" opacity="0.8"/>
<circle cx="267.2" cy="335.3" r="0.55" fill="#e6cfcf" opacity="0.8"/>
<circle cx="260.0" cy="345.8" r="0.55" fill="#e6cfcf" opacity="0.8"/>
<circle cx="259.4" cy="330.9" r="0.55" fill="#e6cfcf" opacity="0.8"/>
<path d="M255.75 336.60 C256.46 335.47 259.79 335.40 261.27 335.75 C262.76 336.10 264.32 337.52 264.68 338.73 C265.03 339.93 264.11 341.91 263.40 342.98 C262.69 344.04 261.49 345.17 260.43 345.10 C259.36 345.03 257.80 343.97 257.02 342.55 C256.25 341.13 255.04 337.73 255.75 336.60Z" fill="#e2c6c6"/>
</g>
<g opacity="1">
<path d="M359.27 324.00 C358.95 324.67 358.23 325.25 357.93 325.86 C357.63 326.47 357.38 326.95 357.47 327.66 C357.56 328.38 358.21 329.26 358.47 330.15 C358.72 331.04 359.21 332.26 358.99 332.99 C358.77 333.72 357.89 334.19 357.14 334.52 C356.40 334.86 355.37 334.91 354.53 335.00 C353.70 335.09 352.75 334.83 352.10 335.06 C351.46 335.28 351.13 335.83 350.65 336.37 C350.16 336.91 349.78 337.87 349.20 338.31 C348.62 338.76 347.86 339.22 347.16 339.04 C346.46 338.85 345.64 337.79 345.00 337.22 C344.36 336.66 343.87 336.00 343.32 335.66 C342.78 335.32 342.42 334.98 341.72 335.18 C341.02 335.39 339.94 336.61 339.12 336.88 C338.29 337.15 337.51 336.96 336.77 336.81 C336.03 336.65 335.02 336.57 334.65 335.94 C334.29 335.31 334.75 333.80 334.57 333.04 C334.39 332.27 334.01 331.86 333.58 331.34 C333.14 330.83 332.63 330.42 331.96 329.95 C331.30 329.49 330.16 329.13 329.57 328.53 C328.98 327.94 328.25 327.14 328.43 326.38 C328.61 325.63 329.90 324.69 330.63 324.00 C331.35 323.31 332.40 322.83 332.77 322.24 C333.15 321.65 332.91 321.09 332.89 320.44 C332.86 319.80 332.65 319.06 332.64 318.35 C332.63 317.65 332.64 316.85 332.84 316.19 C333.05 315.52 333.27 314.70 333.86 314.35 C334.46 314.00 335.61 314.12 336.40 314.08 C337.20 314.03 338.13 314.47 338.63 314.09 C339.14 313.72 339.10 312.63 339.44 311.83 C339.78 311.03 340.14 309.97 340.68 309.30 C341.22 308.63 341.95 307.95 342.67 307.82 C343.39 307.68 344.29 308.04 345.00 308.51 C345.71 308.97 346.28 310.24 346.92 310.61 C347.57 310.99 348.20 310.74 348.89 310.76 C349.58 310.78 350.30 310.72 351.06 310.73 C351.82 310.74 352.81 310.53 353.47 310.82 C354.13 311.10 354.82 311.63 355.03 312.43 C355.23 313.23 354.74 314.71 354.70 315.60 C354.65 316.48 354.46 317.20 354.75 317.73 C355.04 318.26 355.77 318.41 356.43 318.78 C357.10 319.15 358.16 319.45 358.73 319.97 C359.30 320.48 359.77 321.19 359.86 321.86 C359.95 322.54 359.59 323.33 359.27 324.00Z" fill="#efdede" stroke="#e9d3d3" stroke-width="0.8"/>
<ellipse cx="363.9" cy="324.2" rx="2.8" ry="3.5" transform="rotate(119 363.9 324.2)" fill="#efdede" stroke="#e9d3d3" stroke-width="0.6"/>
<ellipse cx="357.8" cy="336.2" rx="2.3" ry="2.6" transform="rotate(20 357.8 336.2)" fill="#efdede" stroke="#e9d3d3" stroke-width="0.6"/>
<ellipse cx="349.0" cy="341.3" rx="2.1" ry="2.5" transform="rotate(90 349.0 341.3)" fill="#efdede" stroke="#e9d3d3" stroke-width="0.6"/>
<ellipse cx="338.9" cy="342.2" rx="2.0" ry="2.0" transform="rotate(40 338.9 342.2)" fill="#efdede" stroke="#e9d3d3" stroke-width="0.6"/>
<ellipse cx="329.1" cy="332.0" rx="2.5" ry="1.9" transform="rotate(99 329.1 332.0)" fill="#efdede" stroke="#e9d3d3" stroke-width="0.6"/>
<ellipse cx="326.2" cy="322.7" rx="1.4" ry="1.2" transform="rotate(62 326.2 322.7)" fill="#efdede" stroke="#e9d3d3" stroke-width="0.6"/>
<ellipse cx="334.2" cy="311.3" rx="2.0" ry="1.7" transform="rotate(51 334.2 311.3)" fill="#efdede" stroke="#e9d3d3" stroke-width="0.6"/>
<ellipse cx="342.4" cy="304.5" rx="2.0" ry="2.6" transform="rotate(30 342.4 304.5)" fill="#efdede" stroke="#e9d3d3" stroke-width="0.6"/>
<ellipse cx="355.9" cy="310.0" rx="1.6" ry="1.8" transform="rotate(164 355.9 310.0)" fill="#efdede" stroke="#e9d3d3" stroke-width="0.6"/>
<ellipse cx="359.1" cy="313.8" rx="2.5" ry="2.2" transform="rotate(43 359.1 313.8)" fill="#efdede" stroke="#e9d3d3" stroke-width="0.6"/>
<circle cx="351.8" cy="324.4" r="0.55" fill="#e9d3d3" opacity="0.8"/>
<circle cx="336.0" cy="315.7" r="0.55" fill="#e9d3d3" opacity="0.8"/>
<circle cx="354.5" cy="323.9" r="0.55" fill="#e9d3d3" opacity="0.8"/>
<circle cx="353.4" cy="325.3" r="0.55" fill="#e9d3d3" opacity="0.8"/>
<circle cx="347.6" cy="312.9" r="0.55" fill="#e9d3d3" opacity="0.8"/>
<circle cx="339.9" cy="317.9" r="0.55" fill="#e9d3d3" opacity="0.8"/>
<circle cx="335.8" cy="322.4" r="0.55" fill="#e9d3d3" opacity="0.8"/>
<circle cx="339.3" cy="318.2" r="0.55" fill="#e9d3d3" opacity="0.8"/>
<circle cx="356.1" cy="320.1" r="0.55" fill="#e9d3d3" opacity="0.8"/>
<circle cx="349.3" cy="331.1" r="0.55" fill="#e9d3d3" opacity="0.8"/>
<circle cx="350.7" cy="318.1" r="0.55" fill="#e9d3d3" opacity="0.8"/>
<circle cx="354.0" cy="320.7" r="0.55" fill="#e9d3d3" opacity="0.8"/>
<path d="M339.39 319.51 C340.32 318.02 344.72 317.92 346.68 318.39 C348.65 318.86 350.70 320.73 351.17 322.32 C351.64 323.91 350.42 326.52 349.49 327.93 C348.55 329.33 346.96 330.83 345.56 330.73 C344.16 330.64 342.10 329.24 341.07 327.37 C340.04 325.50 338.45 321.01 339.39 319.51Z" fill="#e6cccc"/>
</g>
<g opacity="1">
<path d="M300.05 414.00 C299.95 414.51 299.36 415.07 298.89 415.49 C298.42 415.92 297.71 416.24 297.23 416.56 C296.76 416.89 296.19 417.03 296.04 417.44 C295.90 417.86 296.29 418.48 296.37 419.06 C296.45 419.64 296.64 420.42 296.51 420.94 C296.37 421.46 295.99 421.89 295.58 422.17 C295.16 422.44 294.56 422.55 294.02 422.58 C293.47 422.62 292.77 422.19 292.33 422.38 C291.88 422.57 291.72 423.24 291.36 423.72 C290.99 424.21 290.60 424.88 290.12 425.28 C289.65 425.67 289.04 426.12 288.50 426.11 C287.96 426.10 287.36 425.62 286.89 425.22 C286.41 424.81 286.04 424.13 285.66 423.69 C285.28 423.24 285.01 422.78 284.60 422.53 C284.20 422.28 283.76 422.26 283.23 422.20 C282.71 422.13 281.88 422.37 281.44 422.14 C281.01 421.92 280.78 421.33 280.61 420.83 C280.45 420.34 280.44 419.72 280.44 419.18 C280.43 418.64 280.75 418.03 280.61 417.60 C280.47 417.18 280.07 416.96 279.59 416.61 C279.12 416.27 278.23 415.98 277.76 415.54 C277.29 415.11 276.85 414.53 276.75 414.00 C276.66 413.47 276.90 412.86 277.22 412.38 C277.54 411.90 278.26 411.52 278.66 411.11 C279.06 410.71 279.55 410.47 279.63 409.95 C279.71 409.43 279.17 408.61 279.14 407.99 C279.12 407.36 279.22 406.68 279.50 406.20 C279.77 405.72 280.21 405.23 280.80 405.11 C281.38 404.99 282.34 405.32 283.02 405.47 C283.69 405.61 284.34 405.98 284.83 405.97 C285.32 405.95 285.60 405.72 285.97 405.39 C286.34 405.05 286.63 404.30 287.06 403.95 C287.48 403.60 288.02 403.27 288.50 403.31 C288.98 403.35 289.48 403.89 289.91 404.19 C290.35 404.49 290.71 404.87 291.11 405.11 C291.52 405.34 291.81 405.61 292.34 405.59 C292.87 405.58 293.62 405.11 294.28 405.01 C294.94 404.91 295.77 404.79 296.31 404.98 C296.86 405.17 297.31 405.65 297.55 406.16 C297.78 406.68 297.77 407.44 297.71 408.08 C297.66 408.72 297.14 409.50 297.23 410.01 C297.32 410.52 297.90 410.73 298.27 411.13 C298.64 411.53 299.16 411.95 299.46 412.42 C299.75 412.90 300.14 413.49 300.05 414.00Z" fill="#eedddd" stroke="#e8d2d2" stroke-width="0.8"/>
<ellipse cx="300.9" cy="415.0" rx="1.5" ry="1.3" transform="rotate(83 300.9 415.0)" fill="#eedddd" stroke="#e8d2d2" stroke-width="0.6"/>
<ellipse cx="294.7" cy="425.4" rx="1.1" ry="1.1" transform="rotate(42 294.7 425.4)" fill="#eedddd" stroke="#e8d2d2" stroke-width="0.6"/>
<ellipse cx="287.1" cy="426.4" rx="1.4" ry="1.0" transform="rotate(117 287.1 426.4)" fill="#eedddd" stroke="#e8d2d2" stroke-width="0.6"/>
<ellipse cx="276.3" cy="418.3" rx="1.7" ry="2.2" transform="rotate(8 276.3 418.3)" fill="#eedddd" stroke="#e8d2d2" stroke-width="0.6"/>
<ellipse cx="274.6" cy="413.1" rx="1.9" ry="2.0" transform="rotate(29 274.6 413.1)" fill="#eedddd" stroke="#e8d2d2" stroke-width="0.6"/>
<ellipse cx="280.7" cy="402.3" rx="1.9" ry="2.3" transform="rotate(37 280.7 402.3)" fill="#eedddd" stroke="#e8d2d2" stroke-width="0.6"/>
<ellipse cx="293.6" cy="402.1" rx="1.7" ry="1.4" transform="rotate(175 293.6 402.1)" fill="#eedddd" stroke="#e8d2d2" stroke-width="0.6"/>
<ellipse cx="300.5" cy="407.4" rx="1.2" ry="1.3" transform="rotate(105 300.5 407.4)" fill="#eedddd" stroke="#e8d2d2" stroke-width="0.6"/>
<circle cx="283.2" cy="410.6" r="0.55" fill="#e8d2d2" opacity="0.8"/>
<circle cx="287.6" cy="407.8" r="0.55" fill="#e8d2d2" opacity="0.8"/>
<circle cx="287.0" cy="419.3" r="0.55" fill="#e8d2d2" opacity="0.8"/>
<circle cx="286.4" cy="409.2" r="0.55" fill="#e8d2d2" opacity="0.8"/>
<circle cx="289.3" cy="419.0" r="0.55" fill="#e8d2d2" opacity="0.8"/>
<circle cx="284.1" cy="408.4" r="0.55" fill="#e8d2d2" opacity="0.8"/>
<circle cx="283.7" cy="412.7" r="0.55" fill="#e8d2d2" opacity="0.8"/>
<circle cx="282.7" cy="416.3" r="0.55" fill="#e8d2d2" opacity="0.8"/>
<circle cx="292.5" cy="416.6" r="0.55" fill="#e8d2d2" opacity="0.8"/>
<circle cx="293.8" cy="413.9" r="0.55" fill="#e8d2d2" opacity="0.8"/>
<circle cx="286.6" cy="419.6" r="0.55" fill="#e8d2d2" opacity="0.8"/>
<circle cx="284.3" cy="411.1" r="0.55" fill="#e8d2d2" opacity="0.8"/>
<path d="M284.42 410.74 C285.10 409.65 288.30 409.58 289.72 409.92 C291.15 410.26 292.65 411.62 292.99 412.78 C293.33 413.93 292.44 415.84 291.76 416.86 C291.08 417.88 289.93 418.96 288.91 418.90 C287.89 418.83 286.39 417.81 285.64 416.45 C284.90 415.09 283.74 411.82 284.42 410.74Z" fill="#e4caca"/>
</g>
<g opacity="1">
<path d="M322.32 321.00 C322.87 321.84 323.00 322.92 322.75 323.77 C322.49 324.61 321.72 325.49 320.80 326.08 C319.89 326.67 318.11 326.82 317.26 327.29 C316.42 327.75 315.99 328.14 315.75 328.87 C315.52 329.61 316.00 330.83 315.87 331.72 C315.74 332.61 315.54 333.71 314.96 334.22 C314.37 334.73 313.26 334.77 312.36 334.79 C311.47 334.81 310.44 334.50 309.59 334.34 C308.74 334.17 307.92 333.54 307.26 333.79 C306.60 334.05 306.27 335.21 305.64 335.89 C305.01 336.57 304.29 337.39 303.50 337.90 C302.71 338.41 301.75 338.94 300.92 338.96 C300.08 338.98 299.15 338.65 298.50 338.02 C297.85 337.40 297.57 335.88 297.00 335.23 C296.43 334.58 295.93 334.25 295.06 334.13 C294.19 334.01 292.78 334.63 291.78 334.52 C290.79 334.42 289.61 334.15 289.08 333.50 C288.55 332.84 288.55 331.59 288.59 330.58 C288.62 329.58 289.06 328.42 289.30 327.48 C289.54 326.55 289.99 325.71 290.00 324.96 C290.02 324.22 289.90 323.69 289.39 323.03 C288.88 322.37 287.35 321.73 286.94 321.00 C286.54 320.27 286.70 319.36 286.96 318.62 C287.22 317.89 287.86 317.16 288.52 316.60 C289.18 316.04 290.43 315.81 290.92 315.25 C291.41 314.70 291.54 314.20 291.45 313.26 C291.36 312.32 290.42 310.71 290.38 309.63 C290.33 308.55 290.70 307.55 291.16 306.76 C291.62 305.97 292.23 305.03 293.13 304.87 C294.03 304.71 295.56 305.60 296.56 305.80 C297.56 306.00 298.35 306.27 299.12 306.08 C299.88 305.88 300.42 305.15 301.15 304.64 C301.88 304.13 302.69 303.22 303.50 303.04 C304.31 302.87 305.25 303.17 306.00 303.59 C306.76 304.01 307.49 304.76 308.04 305.55 C308.58 306.34 308.84 307.62 309.28 308.34 C309.72 309.05 309.99 309.63 310.67 309.84 C311.35 310.06 312.34 309.68 313.37 309.61 C314.40 309.54 316.09 309.08 316.86 309.42 C317.63 309.77 317.90 310.81 318.01 311.68 C318.11 312.54 317.54 313.75 317.51 314.60 C317.48 315.46 317.50 316.11 317.82 316.79 C318.15 317.48 318.70 318.01 319.45 318.71 C320.20 319.41 321.77 320.16 322.32 321.00Z" fill="#d6a5a6" stroke="#cc9899" stroke-width="0.8"/>
<ellipse cx="323.5" cy="327.2" rx="1.7" ry="2.0" transform="rotate(16 323.5 327.2)" fill="#d6a5a6" stroke="#cc9899" stroke-width="0.6"/>
<ellipse cx="317.7" cy="333.8" rx="2.8" ry="2.1" transform="rotate(95 317.7 333.8)" fill="#d6a5a6" stroke="#cc9899" stroke-width="0.6"/>
<ellipse cx="309.2" cy="341.0" rx="2.7" ry="2.7" transform="rotate(82 309.2 341.0)" fill="#d6a5a6" stroke="#cc9899" stroke-width="0.6"/>
<ellipse cx="293.7" cy="339.2" rx="2.5" ry="1.9" transform="rotate(85 293.7 339.2)" fill="#d6a5a6" stroke="#cc9899" stroke-width="0.6"/>
<ellipse cx="284.4" cy="332.4" rx="3.1" ry="2.3" transform="rotate(26 284.4 332.4)" fill="#d6a5a6" stroke="#cc9899" stroke-width="0.6"/>
<ellipse cx="283.1" cy="315.5" rx="1.6" ry="1.7" transform="rotate(170 283.1 315.5)" fill="#d6a5a6" stroke="#cc9899" stroke-width="0.6"/>
<ellipse cx="289.2" cy="306.6" rx="2.5" ry="3.2" transform="rotate(47 289.2 306.6)" fill="#d6a5a6" stroke="#cc9899" stroke-width="0.6"/>
<ellipse cx="299.6" cy="301.7" rx="2.6" ry="2.5" transform="rotate(46 299.6 301.7)" fill="#d6a5a6" stroke="#cc9899" stroke-width="0.6"/>
<ellipse cx="312.0" cy="303.9" rx="2.1" ry="2.6" transform="rotate(105 312.0 303.9)" fill="#d6a5a6" stroke="#cc9899" stroke-width="0.6"/>
<ellipse cx="323.1" cy="309.8" rx="2.1" ry="1.8" transform="rotate(6 323.1 309.8)" fill="#d6a5a6" stroke="#cc9899" stroke-width="0.6"/>
<circle cx="308.9" cy="328.1" r="0.55" fill="#cc9899" opacity="0.8"/>
<circle cx="305.2" cy="334.3" r="0.55" fill="#cc9899" opacity="0.8"/>
<circle cx="302.7" cy="330.2" r="0.55" fill="#cc9899" opacity="0.8"/>
<circle cx="292.6" cy="312.7" r="0.55" fill="#cc9899" opacity="0.8"/>
<circle cx="300.3" cy="333.2" r="0.55" fill="#cc9899" opacity="0.8"/>
<circle cx="295.8" cy="329.3" r="0.55" fill="#cc9899" opacity="0.8"/>
<circle cx="292.1" cy="313.2" r="0.55" fill="#cc9899" opacity="0.8"/>
<circle cx="304.0" cy="310.0" r="0.55" fill="#cc9899" opacity="0.8"/>
<circle cx="308.9" cy="312.6" r="0.55" fill="#cc9899" opacity="0.8"/>
<circle cx="293.1" cy="330.3" r="0.55" fill="#cc9899" opacity="0.8"/>
<circle cx="291.3" cy="317.4" r="0.55" fill="#cc9899" opacity="0.8"/>
<circle cx="298.1" cy="333.6" r="0.55" fill="#cc9899" opacity="0.8"/>
<path d="M297.04 315.83 C298.12 314.11 303.18 314.00 305.44 314.54 C307.70 315.08 310.07 317.23 310.61 319.06 C311.14 320.89 309.74 323.91 308.67 325.52 C307.59 327.14 305.76 328.86 304.15 328.75 C302.53 328.64 300.16 327.03 298.98 324.88 C297.79 322.72 295.96 317.55 297.04 315.83Z" fill="#b78a8b"/>
</g>
<g opacity="1">
<path d="M360.29 385.50 C360.91 386.20 362.59 387.08 362.97 387.87 C363.34 388.65 362.83 389.49 362.54 390.21 C362.24 390.93 361.90 391.73 361.19 392.21 C360.48 392.68 358.81 392.53 358.27 393.07 C357.74 393.60 358.11 394.60 357.97 395.44 C357.83 396.28 357.75 397.30 357.44 398.12 C357.12 398.94 356.74 399.98 356.06 400.38 C355.38 400.78 354.31 400.83 353.36 400.51 C352.40 400.19 351.15 398.89 350.30 398.46 C349.46 398.02 348.92 397.73 348.28 397.89 C347.65 398.05 347.16 398.96 346.50 399.40 C345.84 399.84 345.06 400.40 344.34 400.55 C343.61 400.70 342.76 400.68 342.15 400.30 C341.55 399.91 341.17 398.82 340.68 398.24 C340.20 397.65 339.83 397.11 339.25 396.79 C338.66 396.46 338.02 396.37 337.16 396.28 C336.29 396.20 334.94 396.51 334.06 396.28 C333.17 396.06 332.39 395.52 331.84 394.92 C331.29 394.32 330.72 393.55 330.76 392.69 C330.80 391.83 331.75 390.60 332.08 389.74 C332.41 388.87 332.84 388.18 332.74 387.48 C332.63 386.77 331.83 386.22 331.42 385.50 C331.01 384.78 330.29 383.91 330.28 383.17 C330.26 382.43 330.79 381.64 331.34 381.05 C331.89 380.45 332.77 379.96 333.57 379.60 C334.38 379.23 335.62 379.27 336.16 378.86 C336.70 378.44 336.74 377.90 336.81 377.10 C336.88 376.30 336.45 374.95 336.59 374.06 C336.73 373.17 337.10 372.22 337.67 371.75 C338.23 371.29 339.21 371.31 340.00 371.26 C340.78 371.22 341.64 371.49 342.38 371.48 C343.12 371.47 343.76 371.46 344.44 371.20 C345.13 370.94 345.73 370.46 346.50 369.89 C347.27 369.33 348.24 367.94 349.04 367.80 C349.85 367.66 350.69 368.43 351.33 369.06 C351.96 369.69 352.46 370.71 352.87 371.56 C353.27 372.42 353.29 373.64 353.77 374.19 C354.24 374.75 354.99 374.66 355.70 374.88 C356.41 375.10 357.31 375.19 358.03 375.51 C358.76 375.82 359.75 376.14 360.05 376.79 C360.36 377.44 360.03 378.56 359.85 379.40 C359.67 380.24 359.07 381.13 358.97 381.84 C358.87 382.55 359.02 383.06 359.24 383.67 C359.46 384.28 359.67 384.80 360.29 385.50Z" fill="#dbb3b3" stroke="#d2a6a6" stroke-width="0.8"/>
<ellipse cx="364.4" cy="386.2" rx="1.5" ry="1.4" transform="rotate(151 364.4 386.2)" fill="#dbb3b3" stroke="#d2a6a6" stroke-width="0.6"/>
<ellipse cx="359.2" cy="399.5" rx="2.2" ry="1.8" transform="rotate(171 359.2 399.5)" fill="#dbb3b3" stroke="#d2a6a6" stroke-width="0.6"/>
<ellipse cx="349.8" cy="403.5" rx="1.9" ry="2.3" transform="rotate(57 349.8 403.5)" fill="#dbb3b3" stroke="#d2a6a6" stroke-width="0.6"/>
<ellipse cx="335.1" cy="400.3" rx="2.1" ry="1.6" transform="rotate(163 335.1 400.3)" fill="#dbb3b3" stroke="#d2a6a6" stroke-width="0.6"/>
<ellipse cx="328.4" cy="391.7" rx="1.6" ry="1.6" transform="rotate(68 328.4 391.7)" fill="#dbb3b3" stroke="#d2a6a6" stroke-width="0.6"/>
<ellipse cx="326.8" cy="379.0" rx="2.6" ry="2.2" transform="rotate(7 326.8 379.0)" fill="#dbb3b3" stroke="#d2a6a6" stroke-width="0.6"/>
<ellipse cx="334.7" cy="368.4" rx="1.6" ry="1.6" transform="rotate(87 334.7 368.4)" fill="#dbb3b3" stroke="#d2a6a6" stroke-width="0.6"/>
<ellipse cx="347.5" cy="367.9" rx="1.5" ry="1.8" transform="rotate(103 347.5 367.9)" fill="#dbb3b3" stroke="#d2a6a6" stroke-width="0.6"/>
<ellipse cx="356.0" cy="367.6" rx="2.3" ry="2.6" transform="rotate(46 356.0 367.6)" fill="#dbb3b3" stroke="#d2a6a6" stroke-width="0.6"/>
<ellipse cx="361.0" cy="375.7" rx="1.9" ry="2.1" transform="rotate(68 361.0 375.7)" fill="#dbb3b3" stroke="#d2a6a6" stroke-width="0.6"/>
<circle cx="340.3" cy="394.3" r="0.55" fill="#d2a6a6" opacity="0.8"/>
<circle cx="343.5" cy="375.3" r="0.55" fill="#d2a6a6" opacity="0.8"/>
<circle cx="342.0" cy="396.6" r="0.55" fill="#d2a6a6" opacity="0.8"/>
<circle cx="350.4" cy="373.6" r="0.55" fill="#d2a6a6" opacity="0.8"/>
<circle cx="352.0" cy="381.1" r="0.55" fill="#d2a6a6" opacity="0.8"/>
<circle cx="342.0" cy="377.5" r="0.55" fill="#d2a6a6" opacity="0.8"/>
<circle cx="338.7" cy="392.1" r="0.55" fill="#d2a6a6" opacity="0.8"/>
<circle cx="351.8" cy="392.2" r="0.55" fill="#d2a6a6" opacity="0.8"/>
<circle cx="355.5" cy="384.7" r="0.55" fill="#d2a6a6" opacity="0.8"/>
<circle cx="356.0" cy="379.7" r="0.55" fill="#d2a6a6" opacity="0.8"/>
<circle cx="343.0" cy="393.7" r="0.55" fill="#d2a6a6" opacity="0.8"/>
<circle cx="337.6" cy="378.6" r="0.55" fill="#d2a6a6" opacity="0.8"/>
<path d="M340.55 380.74 C341.54 379.15 346.20 379.05 348.29 379.55 C350.37 380.05 352.55 382.03 353.05 383.71 C353.54 385.40 352.25 388.18 351.26 389.67 C350.27 391.15 348.58 392.74 347.10 392.64 C345.61 392.54 343.43 391.05 342.33 389.07 C341.24 387.09 339.56 382.33 340.55 380.74Z" fill="#ba9292"/>
</g>
<g opacity="1">
<path d="M285.34 387.00 C284.93 387.70 283.92 388.34 283.36 388.92 C282.79 389.51 282.13 389.89 281.96 390.51 C281.78 391.13 282.05 391.76 282.32 392.62 C282.58 393.49 283.44 394.78 283.53 395.69 C283.62 396.61 283.29 397.50 282.83 398.12 C282.38 398.75 281.63 399.29 280.78 399.44 C279.93 399.59 278.54 398.94 277.74 399.04 C276.93 399.14 276.50 399.51 275.95 400.02 C275.40 400.54 275.04 401.52 274.45 402.14 C273.86 402.76 273.15 403.47 272.41 403.74 C271.67 404.01 270.74 404.24 270.00 403.78 C269.26 403.33 268.59 401.74 267.99 401.00 C267.38 400.27 266.96 399.67 266.36 399.39 C265.76 399.11 265.09 399.32 264.38 399.32 C263.66 399.31 262.87 399.39 262.05 399.37 C261.22 399.36 260.00 399.63 259.42 399.21 C258.84 398.80 258.71 397.72 258.57 396.91 C258.43 396.09 258.68 395.07 258.59 394.33 C258.50 393.59 258.62 392.96 258.04 392.46 C257.45 391.97 256.01 391.87 255.10 391.37 C254.19 390.88 252.96 390.24 252.57 389.51 C252.18 388.78 252.38 387.78 252.75 387.00 C253.13 386.22 254.16 385.47 254.80 384.81 C255.44 384.16 256.24 383.69 256.60 383.06 C256.96 382.44 257.01 381.85 256.96 381.05 C256.92 380.24 256.20 378.99 256.32 378.21 C256.45 377.43 257.05 376.75 257.72 376.36 C258.40 375.97 259.47 375.90 260.36 375.87 C261.24 375.84 262.32 376.26 263.04 376.17 C263.76 376.09 264.18 375.78 264.68 375.36 C265.19 374.93 265.56 374.26 266.07 373.62 C266.59 372.98 267.12 372.06 267.77 371.52 C268.43 370.98 269.27 370.29 270.00 370.38 C270.73 370.46 271.49 371.52 272.15 372.02 C272.82 372.51 273.33 373.12 274.01 373.34 C274.69 373.55 275.41 373.39 276.25 373.31 C277.09 373.24 278.22 372.79 279.08 372.87 C279.94 372.96 280.91 373.22 281.43 373.81 C281.94 374.41 282.11 375.52 282.17 376.45 C282.24 377.39 281.87 378.55 281.81 379.41 C281.74 380.27 281.40 381.04 281.78 381.62 C282.15 382.20 283.39 382.35 284.06 382.87 C284.73 383.39 285.59 384.04 285.80 384.73 C286.01 385.42 285.74 386.30 285.34 387.00Z" fill="#f5d3da" stroke="#f0c6d0" stroke-width="0.8"/>
<ellipse cx="290.4" cy="387.1" rx="2.2" ry="2.7" transform="rotate(86 290.4 387.1)" fill="#f5d3da" stroke="#f0c6d0" stroke-width="0.6"/>
<ellipse cx="281.4" cy="402.3" rx="2.4" ry="2.4" transform="rotate(4 281.4 402.3)" fill="#f5d3da" stroke="#f0c6d0" stroke-width="0.6"/>
<ellipse cx="274.7" cy="404.7" rx="2.0" ry="1.9" transform="rotate(97 274.7 404.7)" fill="#f5d3da" stroke="#f0c6d0" stroke-width="0.6"/>
<ellipse cx="259.9" cy="403.0" rx="1.9" ry="1.9" transform="rotate(171 259.9 403.0)" fill="#f5d3da" stroke="#f0c6d0" stroke-width="0.6"/>
<ellipse cx="251.3" cy="393.5" rx="2.7" ry="2.2" transform="rotate(18 251.3 393.5)" fill="#f5d3da" stroke="#f0c6d0" stroke-width="0.6"/>
<ellipse cx="252.1" cy="386.4" rx="1.4" ry="1.5" transform="rotate(165 252.1 386.4)" fill="#f5d3da" stroke="#f0c6d0" stroke-width="0.6"/>
<ellipse cx="254.4" cy="374.6" rx="2.9" ry="3.3" transform="rotate(28 254.4 374.6)" fill="#f5d3da" stroke="#f0c6d0" stroke-width="0.6"/>
<ellipse cx="268.6" cy="368.7" rx="1.7" ry="1.2" transform="rotate(95 268.6 368.7)" fill="#f5d3da" stroke="#f0c6d0" stroke-width="0.6"/>
<ellipse cx="281.0" cy="372.9" rx="1.6" ry="1.5" transform="rotate(7 281.0 372.9)" fill="#f5d3da" stroke="#f0c6d0" stroke-width="0.6"/>
<ellipse cx="288.0" cy="378.2" rx="2.1" ry="1.5" transform="rotate(5 288.0 378.2)" fill="#f5d3da" stroke="#f0c6d0" stroke-width="0.6"/>
<circle cx="273.6" cy="397.5" r="0.55" fill="#f0c6d0" opacity="0.8"/>
<circle cx="279.0" cy="382.4" r="0.55" fill="#f0c6d0" opacity="0.8"/>
<circle cx="276.6" cy="392.0" r="0.55" fill="#f0c6d0" opacity="0.8"/>
<circle cx="263.4" cy="390.9" r="0.55" fill="#f0c6d0" opacity="0.8"/>
<circle cx="277.2" cy="393.4" r="0.55" fill="#f0c6d0" opacity="0.8"/>
<circle cx="274.5" cy="379.9" r="0.55" fill="#f0c6d0" opacity="0.8"/>
<circle cx="279.1" cy="378.7" r="0.55" fill="#f0c6d0" opacity="0.8"/>
<circle cx="262.4" cy="390.4" r="0.55" fill="#f0c6d0" opacity="0.8"/>
<circle cx="274.4" cy="397.2" r="0.55" fill="#f0c6d0" opacity="0.8"/>
<circle cx="275.6" cy="376.1" r="0.55" fill="#f0c6d0" opacity="0.8"/>
<circle cx="272.5" cy="396.3" r="0.55" fill="#f0c6d0" opacity="0.8"/>
<circle cx="278.8" cy="388.2" r="0.55" fill="#f0c6d0" opacity="0.8"/>
<path d="M264.05 382.24 C265.04 380.65 269.70 380.55 271.79 381.05 C273.87 381.55 276.05 383.53 276.55 385.21 C277.04 386.90 275.75 389.68 274.76 391.17 C273.77 392.65 272.08 394.24 270.60 394.14 C269.11 394.04 266.93 392.55 265.83 390.57 C264.74 388.59 263.06 383.83 264.05 382.24Z" fill="#ebb9c9"/>
</g>
<g opacity="1">
<path d="M313.85 362.00 C314.23 362.49 315.02 363.05 315.37 363.64 C315.73 364.22 316.13 364.99 315.97 365.52 C315.82 366.04 314.95 366.40 314.45 366.77 C313.96 367.15 313.37 367.39 313.00 367.78 C312.63 368.17 312.40 368.56 312.22 369.13 C312.05 369.69 312.15 370.53 311.96 371.19 C311.77 371.84 311.57 372.69 311.11 373.07 C310.66 373.44 309.89 373.51 309.23 373.45 C308.56 373.38 307.77 372.91 307.14 372.69 C306.51 372.48 305.98 372.28 305.46 372.15 C304.94 372.02 304.51 371.75 304.00 371.90 C303.49 372.06 302.97 372.79 302.41 373.06 C301.84 373.33 301.09 373.75 300.61 373.54 C300.13 373.33 299.81 372.41 299.53 371.79 C299.25 371.18 299.23 370.32 298.94 369.87 C298.66 369.42 298.41 369.20 297.84 369.11 C297.26 369.03 296.20 369.44 295.49 369.38 C294.77 369.31 294.04 369.07 293.55 368.72 C293.05 368.36 292.64 367.82 292.52 367.24 C292.41 366.67 292.73 365.89 292.85 365.27 C292.97 364.66 293.24 364.09 293.23 363.55 C293.23 363.00 293.04 362.55 292.83 362.00 C292.62 361.45 292.18 360.87 292.00 360.27 C291.82 359.67 291.44 358.89 291.74 358.40 C292.04 357.91 293.11 357.61 293.81 357.35 C294.51 357.08 295.41 357.05 295.95 356.83 C296.50 356.61 296.89 356.47 297.09 356.01 C297.28 355.55 297.00 354.67 297.12 354.06 C297.24 353.45 297.47 352.82 297.81 352.37 C298.15 351.92 298.59 351.40 299.14 351.36 C299.69 351.33 300.53 351.96 301.11 352.15 C301.69 352.34 302.15 352.58 302.63 352.49 C303.11 352.39 303.47 352.06 304.00 351.57 C304.53 351.09 305.16 349.99 305.79 349.57 C306.42 349.16 307.24 348.88 307.79 349.10 C308.33 349.33 308.72 350.28 309.06 350.93 C309.39 351.57 309.54 352.41 309.80 352.98 C310.06 353.55 310.16 354.09 310.63 354.35 C311.10 354.61 312.03 354.35 312.61 354.54 C313.19 354.73 313.82 355.04 314.13 355.49 C314.43 355.94 314.48 356.63 314.43 357.24 C314.38 357.84 314.06 358.54 313.83 359.11 C313.61 359.69 313.09 360.21 313.09 360.69 C313.09 361.17 313.47 361.51 313.85 362.00Z" fill="#c99a98" stroke="#c08e8c" stroke-width="0.8"/>
<ellipse cx="316.2" cy="367.5" rx="1.8" ry="1.8" transform="rotate(78 316.2 367.5)" fill="#c99a98" stroke="#c08e8c" stroke-width="0.6"/>
<ellipse cx="301.6" cy="377.2" rx="2.0" ry="2.3" transform="rotate(179 301.6 377.2)" fill="#c99a98" stroke="#c08e8c" stroke-width="0.6"/>
<ellipse cx="292.1" cy="354.8" rx="1.2" ry="1.3" transform="rotate(94 292.1 354.8)" fill="#c99a98" stroke="#c08e8c" stroke-width="0.6"/>
<ellipse cx="310.2" cy="347.7" rx="2.0" ry="1.6" transform="rotate(159 310.2 347.7)" fill="#c99a98" stroke="#c08e8c" stroke-width="0.6"/>
<circle cx="312.2" cy="362.1" r="0.55" fill="#c08e8c" opacity="0.8"/>
<circle cx="300.6" cy="369.8" r="0.55" fill="#c08e8c" opacity="0.8"/>
<circle cx="311.3" cy="359.7" r="0.55" fill="#c08e8c" opacity="0.8"/>
<circle cx="304.4" cy="356.6" r="0.55" fill="#c08e8c" opacity="0.8"/>
<circle cx="301.1" cy="357.0" r="0.55" fill="#c08e8c" opacity="0.8"/>
<circle cx="297.5" cy="363.9" r="0.55" fill="#c08e8c" opacity="0.8"/>
<circle cx="311.7" cy="365.8" r="0.55" fill="#c08e8c" opacity="0.8"/>
<circle cx="309.3" cy="365.5" r="0.55" fill="#c08e8c" opacity="0.8"/>
<circle cx="311.0" cy="366.2" r="0.55" fill="#c08e8c" opacity="0.8"/>
<circle cx="302.3" cy="367.1" r="0.55" fill="#c08e8c" opacity="0.8"/>
<circle cx="310.1" cy="363.1" r="0.55" fill="#c08e8c" opacity="0.8"/>
<circle cx="298.7" cy="361.8" r="0.55" fill="#c08e8c" opacity="0.8"/>
<path d="M299.58 358.46 C300.32 357.29 303.78 357.21 305.33 357.58 C306.87 357.95 308.49 359.42 308.86 360.67 C309.23 361.93 308.27 363.99 307.54 365.09 C306.80 366.20 305.55 367.38 304.44 367.30 C303.34 367.23 301.72 366.13 300.91 364.65 C300.10 363.18 298.84 359.64 299.58 358.46Z" fill="#b58583"/>
</g>
<g opacity="1">
<path d="M306.57 346.50 C306.17 347.52 305.44 348.43 305.14 349.40 C304.85 350.36 304.54 351.14 304.79 352.31 C305.05 353.48 306.47 355.11 306.68 356.40 C306.89 357.69 306.74 359.14 306.06 360.03 C305.37 360.92 303.96 361.53 302.58 361.74 C301.21 361.95 299.12 361.29 297.82 361.30 C296.53 361.30 295.57 361.22 294.81 361.77 C294.06 362.32 293.87 363.61 293.27 364.62 C292.68 365.63 292.13 367.31 291.26 367.83 C290.39 368.35 289.10 368.04 288.05 367.73 C287.01 367.42 285.93 366.61 285.00 365.97 C284.07 365.34 283.41 364.07 282.49 363.93 C281.58 363.79 280.68 364.59 279.53 365.12 C278.38 365.64 276.85 366.82 275.60 367.07 C274.36 367.33 273.08 367.08 272.05 366.65 C271.02 366.22 269.85 365.60 269.43 364.47 C269.01 363.35 269.84 361.03 269.54 359.90 C269.24 358.76 268.45 358.35 267.62 357.67 C266.80 356.99 265.45 356.58 264.59 355.82 C263.73 355.06 262.96 354.11 262.47 353.12 C261.97 352.12 261.31 350.96 261.65 349.86 C261.98 348.76 263.64 347.50 264.48 346.50 C265.32 345.50 266.12 344.71 266.66 343.86 C267.21 343.02 267.83 342.43 267.74 341.43 C267.65 340.44 266.43 339.08 266.13 337.88 C265.82 336.68 265.48 335.14 265.94 334.25 C266.39 333.35 267.75 332.86 268.85 332.51 C269.96 332.16 271.55 332.43 272.57 332.15 C273.59 331.88 274.41 331.82 274.95 330.87 C275.50 329.91 275.30 327.70 275.83 326.43 C276.37 325.15 277.23 324.02 278.16 323.22 C279.10 322.42 280.29 321.39 281.43 321.64 C282.57 321.90 283.92 323.95 285.00 324.73 C286.08 325.52 286.93 326.03 287.90 326.36 C288.86 326.70 289.71 326.84 290.80 326.76 C291.88 326.69 293.35 325.77 294.40 325.92 C295.45 326.07 296.37 326.89 297.09 327.69 C297.81 328.48 298.49 329.48 298.71 330.68 C298.93 331.88 298.20 333.84 298.41 334.88 C298.62 335.91 299.25 336.29 299.97 336.88 C300.68 337.47 301.51 337.90 302.68 338.43 C303.84 338.96 306.14 339.25 306.95 340.05 C307.76 340.86 307.60 342.19 307.54 343.26 C307.47 344.33 306.97 345.48 306.57 346.50Z" fill="#e0585c" stroke="#cb4549" stroke-width="0.8"/>
<ellipse cx="311.9" cy="352.6" rx="2.4" ry="2.5" transform="rotate(172 311.9 352.6)" fill="#e0585c" stroke="#cb4549" stroke-width="0.6"/>
<ellipse cx="305.3" cy="361.5" rx="2.4" ry="2.9" transform="rotate(35 305.3 361.5)" fill="#e0585c" stroke="#cb4549" stroke-width="0.6"/>
<ellipse cx="295.9" cy="370.2" rx="3.1" ry="2.4" transform="rotate(119 295.9 370.2)" fill="#e0585c" stroke="#cb4549" stroke-width="0.6"/>
<ellipse cx="281.4" cy="371.2" rx="2.6" ry="3.2" transform="rotate(104 281.4 371.2)" fill="#e0585c" stroke="#cb4549" stroke-width="0.6"/>
<ellipse cx="274.9" cy="367.8" rx="3.5" ry="3.2" transform="rotate(84 274.9 367.8)" fill="#e0585c" stroke="#cb4549" stroke-width="0.6"/>
<ellipse cx="263.9" cy="362.4" rx="3.4" ry="3.0" transform="rotate(14 263.9 362.4)" fill="#e0585c" stroke="#cb4549" stroke-width="0.6"/>
<ellipse cx="257.3" cy="345.3" rx="1.9" ry="2.0" transform="rotate(123 257.3 345.3)" fill="#e0585c" stroke="#cb4549" stroke-width="0.6"/>
<ellipse cx="259.8" cy="337.0" rx="3.9" ry="4.1" transform="rotate(70 259.8 337.0)" fill="#e0585c" stroke="#cb4549" stroke-width="0.6"/>
<ellipse cx="267.5" cy="329.1" rx="2.2" ry="1.7" transform="rotate(38 267.5 329.1)" fill="#e0585c" stroke="#cb4549" stroke-width="0.6"/>
<ellipse cx="281.9" cy="320.7" rx="3.6" ry="4.5" transform="rotate(146 281.9 320.7)" fill="#e0585c" stroke="#cb4549" stroke-width="0.6"/>
<ellipse cx="288.8" cy="318.9" rx="2.1" ry="2.4" transform="rotate(151 288.8 318.9)" fill="#e0585c" stroke="#cb4549" stroke-width="0.6"/>
<ellipse cx="303.1" cy="328.7" rx="2.0" ry="1.5" transform="rotate(115 303.1 328.7)" fill="#e0585c" stroke="#cb4549" stroke-width="0.6"/>
<ellipse cx="308.8" cy="336.1" rx="2.4" ry="1.9" transform="rotate(53 308.8 336.1)" fill="#e0585c" stroke="#cb4549" stroke-width="0.6"/>
<circle cx="282.9" cy="333.3" r="0.55" fill="#cb4549" opacity="0.8"/>
<circle cx="274.5" cy="354.9" r="0.55" fill="#cb4549" opacity="0.8"/>
<circle cx="272.1" cy="342.0" r="0.55" fill="#cb4549" opacity="0.8"/>
<circle cx="268.7" cy="352.4" r="0.55" fill="#cb4549" opacity="0.8"/>
<circle cx="285.1" cy="335.2" r="0.55" fill="#cb4549" opacity="0.8"/>
<circle cx="280.5" cy="356.5" r="0.55" fill="#cb4549" opacity="0.8"/>
<circle cx="278.7" cy="353.8" r="0.55" fill="#cb4549" opacity="0.8"/>
<circle cx="284.5" cy="332.4" r="0.55" fill="#cb4549" opacity="0.8"/>
<circle cx="270.2" cy="354.3" r="0.55" fill="#cb4549" opacity="0.8"/>
<circle cx="278.3" cy="359.0" r="0.55" fill="#cb4549" opacity="0.8"/>
<circle cx="297.6" cy="340.5" r="0.55" fill="#cb4549" opacity="0.8"/>
<circle cx="275.6" cy="338.4" r="0.55" fill="#cb4549" opacity="0.8"/>
<path d="M277.01 340.11 C278.34 337.98 284.60 337.84 287.40 338.51 C290.19 339.18 293.12 341.84 293.79 344.10 C294.45 346.37 292.72 350.10 291.39 352.09 C290.06 354.09 287.80 356.22 285.80 356.09 C283.80 355.95 280.87 353.96 279.41 351.29 C277.94 348.63 275.68 342.24 277.01 340.11Z" fill="#a83a33"/>
</g>
<g opacity="1">
<path d="M354.02 351.00 C354.12 352.07 353.45 353.32 352.61 354.25 C351.76 355.18 349.99 355.86 348.93 356.56 C347.86 357.25 346.81 357.68 346.24 358.42 C345.66 359.15 345.60 359.94 345.48 360.95 C345.37 361.96 345.79 363.43 345.56 364.48 C345.33 365.54 344.92 366.75 344.12 367.30 C343.32 367.84 341.88 367.75 340.77 367.76 C339.66 367.76 338.37 367.12 337.45 367.31 C336.53 367.49 335.99 368.14 335.25 368.86 C334.50 369.59 333.84 370.65 332.97 371.65 C332.10 372.66 331.06 374.36 330.00 374.88 C328.94 375.41 327.61 375.27 326.58 374.78 C325.55 374.30 324.67 372.88 323.84 371.98 C323.01 371.07 322.39 370.05 321.61 369.37 C320.83 368.69 320.16 368.16 319.16 367.87 C318.15 367.59 316.67 367.95 315.57 367.65 C314.47 367.36 313.07 367.01 312.57 366.10 C312.07 365.19 312.32 363.50 312.58 362.20 C312.84 360.89 313.99 359.30 314.11 358.26 C314.22 357.21 313.88 356.65 313.26 355.91 C312.65 355.17 311.31 354.64 310.41 353.82 C309.51 353.00 308.16 351.98 307.88 351.00 C307.59 350.02 308.17 348.87 308.68 347.94 C309.20 347.00 310.22 346.18 310.98 345.42 C311.74 344.65 313.02 344.31 313.24 343.35 C313.46 342.38 312.40 340.86 312.31 339.63 C312.21 338.40 312.40 337.19 312.67 335.98 C312.93 334.78 313.03 333.06 313.89 332.40 C314.74 331.74 316.49 331.92 317.80 332.02 C319.11 332.11 320.61 332.81 321.76 332.96 C322.91 333.11 323.81 333.33 324.69 332.92 C325.57 332.51 326.17 331.18 327.06 330.52 C327.94 329.87 329.01 329.04 330.00 328.99 C330.99 328.95 332.13 329.49 332.98 330.25 C333.84 331.00 334.45 332.64 335.14 333.50 C335.83 334.36 336.26 335.16 337.12 335.41 C337.98 335.66 339.17 335.06 340.28 335.00 C341.40 334.93 342.61 334.92 343.84 335.03 C345.07 335.15 346.85 335.04 347.67 335.69 C348.48 336.35 348.67 337.79 348.71 338.97 C348.76 340.16 347.93 341.72 347.95 342.80 C347.97 343.89 348.16 344.63 348.84 345.47 C349.51 346.31 351.14 346.91 352.01 347.84 C352.87 348.76 353.92 349.93 354.02 351.00Z" fill="#e0585c" stroke="#cb4549" stroke-width="0.8"/>
<ellipse cx="354.7" cy="354.1" rx="2.8" ry="2.2" transform="rotate(127 354.7 354.1)" fill="#e0585c" stroke="#cb4549" stroke-width="0.6"/>
<ellipse cx="350.2" cy="366.5" rx="2.5" ry="3.0" transform="rotate(148 350.2 366.5)" fill="#e0585c" stroke="#cb4549" stroke-width="0.6"/>
<ellipse cx="340.1" cy="372.1" rx="2.1" ry="1.7" transform="rotate(14 340.1 372.1)" fill="#e0585c" stroke="#cb4549" stroke-width="0.6"/>
<ellipse cx="328.3" cy="376.4" rx="2.3" ry="2.8" transform="rotate(113 328.3 376.4)" fill="#e0585c" stroke="#cb4549" stroke-width="0.6"/>
<ellipse cx="315.1" cy="373.2" rx="3.3" ry="3.3" transform="rotate(177 315.1 373.2)" fill="#e0585c" stroke="#cb4549" stroke-width="0.6"/>
<ellipse cx="309.8" cy="367.6" rx="3.7" ry="3.6" transform="rotate(147 309.8 367.6)" fill="#e0585c" stroke="#cb4549" stroke-width="0.6"/>
<ellipse cx="305.5" cy="355.7" rx="2.4" ry="2.3" transform="rotate(126 305.5 355.7)" fill="#e0585c" stroke="#cb4549" stroke-width="0.6"/>
<ellipse cx="306.4" cy="344.1" rx="3.6" ry="3.2" transform="rotate(23 306.4 344.1)" fill="#e0585c" stroke="#cb4549" stroke-width="0.6"/>
<ellipse cx="316.5" cy="329.4" rx="1.9" ry="2.0" transform="rotate(26 316.5 329.4)" fill="#e0585c" stroke="#cb4549" stroke-width="0.6"/>
<ellipse cx="321.8" cy="325.9" rx="3.2" ry="3.0" transform="rotate(93 321.8 325.9)" fill="#e0585c" stroke="#cb4549" stroke-width="0.6"/>
<ellipse cx="337.0" cy="326.9" rx="2.0" ry="2.4" transform="rotate(139 337.0 326.9)" fill="#e0585c" stroke="#cb4549" stroke-width="0.6"/>
<ellipse cx="346.5" cy="332.4" rx="3.1" ry="3.1" transform="rotate(75 346.5 332.4)" fill="#e0585c" stroke="#cb4549" stroke-width="0.6"/>
<ellipse cx="356.5" cy="344.8" rx="2.2" ry="1.7" transform="rotate(141 356.5 344.8)" fill="#e0585c" stroke="#cb4549" stroke-width="0.6"/>
<circle cx="344.5" cy="347.0" r="0.55" fill="#cb4549" opacity="0.8"/>
<circle cx="327.2" cy="360.3" r="0.55" fill="#cb4549" opacity="0.8"/>
<circle cx="337.8" cy="336.2" r="0.55" fill="#cb4549" opacity="0.8"/>
<circle cx="330.8" cy="335.9" r="0.55" fill="#cb4549" opacity="0.8"/>
<circle cx="343.2" cy="348.7" r="0.55" fill="#cb4549" opacity="0.8"/>
<circle cx="340.2" cy="346.2" r="0.55" fill="#cb4549" opacity="0.8"/>
<circle cx="344.2" cy="358.4" r="0.55" fill="#cb4549" opacity="0.8"/>
<circle cx="325.0" cy="336.2" r="0.55" fill="#cb4549" opacity="0.8"/>
<circle cx="337.9" cy="359.5" r="0.55" fill="#cb4549" opacity="0.8"/>
<circle cx="321.7" cy="345.9" r="0.55" fill="#cb4549" opacity="0.8"/>
<circle cx="323.4" cy="363.4" r="0.55" fill="#cb4549" opacity="0.8"/>
<circle cx="343.8" cy="345.2" r="0.55" fill="#cb4549" opacity="0.8"/>
<path d="M322.18 344.74 C323.48 342.66 329.61 342.53 332.35 343.18 C335.08 343.83 337.95 346.44 338.60 348.65 C339.25 350.87 337.56 354.52 336.26 356.47 C334.95 358.43 332.74 360.51 330.78 360.38 C328.83 360.25 325.96 358.30 324.53 355.69 C323.09 353.09 320.88 346.83 322.18 344.74Z" fill="#a83a33"/>
</g>
<g opacity="1">
<path d="M331.50 396.50 C331.08 397.51 330.74 398.32 330.81 399.35 C330.89 400.37 331.80 401.55 331.96 402.65 C332.12 403.76 332.17 405.02 331.77 405.99 C331.37 406.95 330.71 408.00 329.56 408.43 C328.41 408.85 326.12 408.38 324.88 408.53 C323.65 408.68 322.74 408.70 322.13 409.34 C321.52 409.99 321.57 411.25 321.22 412.40 C320.87 413.56 320.67 415.29 320.04 416.29 C319.41 417.29 318.43 418.19 317.43 418.40 C316.43 418.61 315.10 417.96 314.03 417.55 C312.95 417.14 311.99 416.09 311.00 415.94 C310.01 415.79 309.18 416.23 308.10 416.66 C307.03 417.08 305.78 418.09 304.54 418.50 C303.30 418.91 301.68 419.54 300.67 419.12 C299.66 418.69 298.95 417.21 298.50 415.95 C298.05 414.69 298.18 412.79 297.95 411.55 C297.73 410.32 297.73 409.25 297.13 408.52 C296.53 407.79 295.32 407.70 294.36 407.19 C293.39 406.69 292.12 406.22 291.34 405.48 C290.56 404.74 289.75 403.77 289.69 402.76 C289.63 401.74 290.42 400.42 291.00 399.38 C291.58 398.33 292.85 397.41 293.18 396.50 C293.51 395.59 293.53 394.94 293.00 393.91 C292.46 392.88 290.65 391.57 289.97 390.32 C289.29 389.08 288.70 387.49 288.92 386.42 C289.15 385.34 290.37 384.53 291.34 383.87 C292.32 383.21 293.69 382.86 294.79 382.45 C295.88 382.04 297.21 382.16 297.91 381.40 C298.62 380.63 298.52 379.01 299.03 377.88 C299.54 376.74 300.12 375.30 300.99 374.57 C301.86 373.85 303.09 373.40 304.25 373.52 C305.41 373.64 306.82 374.42 307.95 375.27 C309.07 376.12 310.06 378.08 311.00 378.62 C311.94 379.17 312.61 378.86 313.58 378.55 C314.55 378.23 315.68 377.15 316.81 376.73 C317.93 376.31 319.39 375.73 320.35 376.03 C321.31 376.33 322.03 377.51 322.55 378.53 C323.07 379.54 322.99 381.20 323.47 382.11 C323.94 383.03 324.60 383.47 325.42 384.01 C326.23 384.55 327.09 384.94 328.36 385.34 C329.64 385.74 332.10 385.70 333.06 386.42 C334.02 387.15 334.10 388.56 334.14 389.71 C334.18 390.85 333.76 392.16 333.32 393.29 C332.88 394.42 331.92 395.49 331.50 396.50Z" fill="#e0585c" stroke="#cb4549" stroke-width="0.8"/>
<ellipse cx="334.8" cy="399.8" rx="2.9" ry="2.9" transform="rotate(66 334.8 399.8)" fill="#e0585c" stroke="#cb4549" stroke-width="0.6"/>
<ellipse cx="331.3" cy="415.2" rx="3.8" ry="3.2" transform="rotate(5 331.3 415.2)" fill="#e0585c" stroke="#cb4549" stroke-width="0.6"/>
<ellipse cx="322.4" cy="417.7" rx="3.4" ry="2.9" transform="rotate(23 322.4 417.7)" fill="#e0585c" stroke="#cb4549" stroke-width="0.6"/>
<ellipse cx="312.0" cy="421.9" rx="3.4" ry="3.4" transform="rotate(54 312.0 421.9)" fill="#e0585c" stroke="#cb4549" stroke-width="0.6"/>
<ellipse cx="298.4" cy="416.6" rx="2.3" ry="2.6" transform="rotate(135 298.4 416.6)" fill="#e0585c" stroke="#cb4549" stroke-width="0.6"/>
<ellipse cx="292.7" cy="411.8" rx="2.9" ry="3.2" transform="rotate(3 292.7 411.8)" fill="#e0585c" stroke="#cb4549" stroke-width="0.6"/>
<ellipse cx="286.4" cy="399.3" rx="2.1" ry="1.7" transform="rotate(51 286.4 399.3)" fill="#e0585c" stroke="#cb4549" stroke-width="0.6"/>
<ellipse cx="288.7" cy="387.7" rx="3.2" ry="3.9" transform="rotate(123 288.7 387.7)" fill="#e0585c" stroke="#cb4549" stroke-width="0.6"/>
<ellipse cx="291.5" cy="378.5" rx="3.2" ry="2.3" transform="rotate(69 291.5 378.5)" fill="#e0585c" stroke="#cb4549" stroke-width="0.6"/>
<ellipse cx="306.2" cy="369.0" rx="3.8" ry="4.0" transform="rotate(106 306.2 369.0)" fill="#e0585c" stroke="#cb4549" stroke-width="0.6"/>
<ellipse cx="320.5" cy="373.9" rx="3.0" ry="2.2" transform="rotate(139 320.5 373.9)" fill="#e0585c" stroke="#cb4549" stroke-width="0.6"/>
<ellipse cx="328.5" cy="379.3" rx="2.3" ry="2.3" transform="rotate(135 328.5 379.3)" fill="#e0585c" stroke="#cb4549" stroke-width="0.6"/>
<ellipse cx="333.6" cy="385.8" rx="3.0" ry="2.5" transform="rotate(159 333.6 385.8)" fill="#e0585c" stroke="#cb4549" stroke-width="0.6"/>
<circle cx="308.3" cy="379.5" r="0.55" fill="#cb4549" opacity="0.8"/>
<circle cx="301.5" cy="384.9" r="0.55" fill="#cb4549" opacity="0.8"/>
<circle cx="308.0" cy="409.7" r="0.55" fill="#cb4549" opacity="0.8"/>
<circle cx="299.0" cy="402.3" r="0.55" fill="#cb4549" opacity="0.8"/>
<circle cx="326.1" cy="402.8" r="0.55" fill="#cb4549" opacity="0.8"/>
<circle cx="318.4" cy="407.4" r="0.55" fill="#cb4549" opacity="0.8"/>
<circle cx="323.3" cy="390.7" r="0.55" fill="#cb4549" opacity="0.8"/>
<circle cx="318.8" cy="388.0" r="0.55" fill="#cb4549" opacity="0.8"/>
<circle cx="298.8" cy="399.1" r="0.55" fill="#cb4549" opacity="0.8"/>
<circle cx="305.4" cy="407.6" r="0.55" fill="#cb4549" opacity="0.8"/>
<circle cx="295.6" cy="402.0" r="0.55" fill="#cb4549" opacity="0.8"/>
<circle cx="321.0" cy="394.6" r="0.55" fill="#cb4549" opacity="0.8"/>
<path d="M303.01 390.11 C304.34 387.98 310.60 387.84 313.40 388.51 C316.19 389.18 319.12 391.84 319.79 394.10 C320.45 396.37 318.72 400.10 317.39 402.09 C316.06 404.09 313.80 406.22 311.80 406.09 C309.80 405.95 306.87 403.96 305.41 401.29 C303.94 398.63 301.68 392.24 303.01 390.11Z" fill="#a83a33"/>
</g>
<g opacity="1">
<path d="M517.84 324.00 C517.99 324.73 518.49 325.52 518.43 326.24 C518.38 326.96 517.92 327.68 517.53 328.32 C517.13 328.96 516.35 329.43 516.06 330.09 C515.77 330.75 515.94 331.56 515.80 332.29 C515.65 333.03 515.59 333.88 515.21 334.50 C514.84 335.12 514.18 335.60 513.54 336.00 C512.90 336.39 511.93 336.37 511.39 336.86 C510.86 337.35 510.78 338.34 510.33 338.96 C509.88 339.58 509.37 340.30 508.70 340.57 C508.03 340.85 507.05 340.55 506.30 340.60 C505.54 340.65 504.85 340.67 504.16 340.89 C503.47 341.10 502.87 341.61 502.17 341.89 C501.48 342.17 500.73 342.55 500.00 342.58 C499.27 342.61 498.49 342.41 497.80 342.09 C497.12 341.77 496.58 340.90 495.90 340.65 C495.21 340.41 494.47 340.63 493.69 340.63 C492.91 340.64 491.88 341.02 491.23 340.70 C490.59 340.39 490.27 339.37 489.83 338.73 C489.39 338.09 489.13 337.35 488.59 336.88 C488.04 336.41 487.20 336.30 486.56 335.91 C485.92 335.52 485.17 335.12 484.73 334.54 C484.28 333.97 484.02 333.20 483.89 332.46 C483.75 331.72 484.11 330.80 483.90 330.10 C483.69 329.41 483.03 328.93 482.62 328.28 C482.22 327.64 481.56 326.96 481.46 326.25 C481.36 325.54 481.85 324.73 482.02 324.00 C482.20 323.27 482.47 322.60 482.51 321.88 C482.56 321.15 482.27 320.38 482.30 319.64 C482.32 318.89 482.33 318.07 482.66 317.42 C482.98 316.77 483.76 316.30 484.25 315.73 C484.73 315.17 485.21 314.67 485.55 314.03 C485.89 313.38 485.92 312.49 486.29 311.86 C486.67 311.23 487.24 310.70 487.82 310.25 C488.39 309.79 489.06 309.42 489.73 309.12 C490.40 308.82 491.19 308.79 491.83 308.44 C492.47 308.10 492.95 307.44 493.57 307.05 C494.19 306.65 494.87 306.23 495.58 306.06 C496.29 305.89 497.08 305.95 497.82 306.02 C498.55 306.09 499.28 306.47 500.00 306.50 C500.72 306.54 501.41 306.36 502.16 306.25 C502.90 306.14 503.78 305.65 504.48 305.84 C505.17 306.02 505.73 306.86 506.31 307.36 C506.89 307.86 507.31 308.53 507.96 308.84 C508.61 309.15 509.48 309.00 510.20 309.22 C510.92 309.43 511.76 309.64 512.29 310.12 C512.83 310.61 513.05 311.47 513.39 312.13 C513.74 312.79 513.90 313.52 514.36 314.09 C514.82 314.65 515.59 314.99 516.14 315.53 C516.69 316.06 517.39 316.62 517.65 317.31 C517.91 317.99 517.70 318.88 517.68 319.64 C517.66 320.40 517.48 321.15 517.51 321.87 C517.54 322.60 517.69 323.27 517.84 324.00Z" fill="#f9e3df" stroke="#f6d9d4" stroke-width="0.9"/>
<ellipse cx="500" cy="324" rx="6.3" ry="6.68" fill="#f4d6d0"/>
</g>
<g opacity="1">
<path d="M567.62 313.00 C567.79 313.60 567.87 314.26 567.76 314.85 C567.66 315.45 567.28 316.02 567.00 316.57 C566.72 317.12 566.24 317.56 566.09 318.15 C565.94 318.75 566.26 319.54 566.09 320.13 C565.92 320.72 565.50 321.24 565.08 321.68 C564.66 322.13 564.02 322.40 563.55 322.79 C563.07 323.17 562.64 323.53 562.24 324.00 C561.84 324.46 561.58 325.08 561.17 325.56 C560.76 326.03 560.34 326.64 559.78 326.87 C559.22 327.10 558.43 326.93 557.79 326.96 C557.16 326.99 556.55 326.90 555.96 327.06 C555.38 327.22 554.89 327.66 554.31 327.91 C553.73 328.16 553.09 328.65 552.50 328.58 C551.91 328.51 551.31 327.76 550.74 327.48 C550.17 327.20 549.69 326.92 549.07 326.90 C548.46 326.88 547.70 327.36 547.06 327.35 C546.42 327.34 545.75 327.18 545.24 326.83 C544.74 326.48 544.45 325.73 544.03 325.27 C543.61 324.80 543.20 324.41 542.73 324.03 C542.25 323.66 541.66 323.41 541.19 323.02 C540.72 322.63 540.20 322.22 539.93 321.68 C539.66 321.14 539.79 320.35 539.59 319.78 C539.38 319.20 538.99 318.76 538.71 318.23 C538.42 317.70 538.10 317.17 537.87 316.61 C537.63 316.04 537.29 315.45 537.30 314.85 C537.32 314.24 537.80 313.60 537.96 313.00 C538.12 312.40 538.28 311.87 538.27 311.27 C538.26 310.67 537.93 310.02 537.90 309.40 C537.87 308.78 537.82 308.07 538.10 307.54 C538.38 307.01 539.15 306.67 539.57 306.21 C539.99 305.76 540.38 305.37 540.61 304.79 C540.84 304.22 540.65 303.30 540.94 302.76 C541.23 302.22 541.83 301.87 542.34 301.54 C542.86 301.20 543.48 300.99 544.04 300.74 C544.60 300.49 545.19 300.37 545.70 300.03 C546.20 299.70 546.57 299.06 547.08 298.72 C547.60 298.37 548.19 298.03 548.79 297.95 C549.40 297.87 550.09 298.15 550.71 298.23 C551.33 298.31 551.90 298.47 552.50 298.42 C553.10 298.38 553.71 298.05 554.32 297.99 C554.94 297.93 555.62 297.84 556.18 298.06 C556.74 298.28 557.18 298.96 557.69 299.31 C558.20 299.66 558.64 300.01 559.23 300.17 C559.83 300.33 560.70 300.06 561.28 300.27 C561.87 300.49 562.38 300.94 562.73 301.45 C563.09 301.96 563.11 302.79 563.40 303.34 C563.69 303.89 564.00 304.33 564.45 304.75 C564.91 305.17 565.71 305.39 566.12 305.85 C566.54 306.31 566.80 306.93 566.94 307.53 C567.07 308.12 566.95 308.82 566.91 309.45 C566.88 310.07 566.63 310.68 566.75 311.27 C566.86 311.86 567.45 312.40 567.62 313.00Z" fill="#f9e3df" stroke="#f6d9d4" stroke-width="0.9"/>
<ellipse cx="552.5" cy="313" rx="5.25" ry="5.57" fill="#f4d6d0"/>
</g>
<g opacity="1">
<path d="M592.83 344.00 C592.73 344.62 592.57 345.20 592.55 345.83 C592.52 346.45 592.68 347.10 592.67 347.74 C592.67 348.38 592.77 349.12 592.52 349.70 C592.27 350.27 591.60 350.69 591.18 351.18 C590.76 351.67 590.34 352.11 590.01 352.63 C589.67 353.16 589.48 353.77 589.17 354.33 C588.86 354.90 588.64 355.64 588.15 356.02 C587.66 356.40 586.82 356.40 586.20 356.61 C585.59 356.82 584.98 356.91 584.48 357.29 C583.97 357.67 583.68 358.54 583.16 358.91 C582.63 359.29 581.97 359.50 581.33 359.54 C580.69 359.58 579.98 359.19 579.34 359.13 C578.70 359.08 578.12 359.12 577.50 359.22 C576.88 359.31 576.23 359.64 575.60 359.68 C574.96 359.72 574.28 359.68 573.70 359.44 C573.12 359.19 572.65 358.55 572.12 358.19 C571.59 357.84 571.10 357.52 570.53 357.29 C569.95 357.05 569.29 356.99 568.68 356.78 C568.07 356.56 567.31 356.44 566.86 356.01 C566.41 355.58 566.27 354.78 565.99 354.20 C565.71 353.61 565.60 352.98 565.18 352.51 C564.75 352.04 563.90 351.85 563.43 351.39 C562.96 350.92 562.49 350.36 562.36 349.74 C562.23 349.12 562.62 348.31 562.65 347.66 C562.68 347.01 562.63 346.43 562.52 345.82 C562.40 345.21 562.06 344.62 561.95 344.00 C561.83 343.38 561.75 342.72 561.83 342.10 C561.92 341.48 562.17 340.86 562.46 340.29 C562.75 339.73 563.35 339.30 563.56 338.71 C563.77 338.12 563.58 337.40 563.69 336.75 C563.79 336.10 563.81 335.30 564.19 334.81 C564.57 334.32 565.40 334.12 565.98 333.80 C566.56 333.48 567.23 333.34 567.66 332.90 C568.10 332.45 568.20 331.61 568.61 331.12 C569.02 330.63 569.54 330.16 570.12 329.95 C570.71 329.73 571.48 329.87 572.12 329.82 C572.76 329.77 573.38 329.89 573.96 329.65 C574.54 329.41 575.01 328.63 575.60 328.37 C576.19 328.11 576.88 328.01 577.50 328.10 C578.12 328.19 578.74 328.65 579.33 328.89 C579.93 329.14 580.44 329.47 581.06 329.57 C581.67 329.66 582.39 329.38 583.01 329.46 C583.64 329.54 584.29 329.73 584.83 330.03 C585.37 330.34 585.82 330.85 586.27 331.29 C586.72 331.73 587.03 332.30 587.53 332.68 C588.03 333.06 588.80 333.16 589.30 333.55 C589.79 333.94 590.25 334.44 590.52 335.02 C590.78 335.59 590.73 336.36 590.88 336.98 C591.02 337.60 591.07 338.19 591.37 338.74 C591.67 339.29 592.39 339.70 592.69 340.26 C592.99 340.82 593.15 341.47 593.17 342.10 C593.19 342.72 592.93 343.38 592.83 344.00Z" fill="#f9e3df" stroke="#f6d9d4" stroke-width="0.9"/>
<ellipse cx="577.5" cy="344" rx="5.425" ry="5.75" fill="#f4d6d0"/>
</g>
<g opacity="1">
<path d="M555.34 410.00 C555.22 410.64 554.92 411.23 554.90 411.88 C554.88 412.53 555.19 413.22 555.22 413.90 C555.24 414.57 555.35 415.36 555.05 415.93 C554.75 416.51 553.88 416.86 553.42 417.36 C552.96 417.85 552.62 418.35 552.29 418.90 C551.96 419.45 551.75 420.08 551.42 420.65 C551.09 421.22 550.83 421.94 550.31 422.32 C549.80 422.70 548.94 422.70 548.32 422.93 C547.70 423.15 547.13 423.36 546.58 423.68 C546.04 424.01 545.59 424.52 545.05 424.90 C544.51 425.28 543.96 425.81 543.33 425.96 C542.71 426.12 541.98 425.90 541.32 425.84 C540.67 425.77 540.05 425.54 539.40 425.58 C538.75 425.63 538.10 426.05 537.44 426.10 C536.79 426.15 536.09 426.12 535.49 425.88 C534.89 425.64 534.37 425.05 533.84 424.67 C533.30 424.29 532.87 423.81 532.28 423.58 C531.68 423.34 530.90 423.45 530.24 423.27 C529.58 423.09 528.79 422.95 528.32 422.51 C527.84 422.07 527.69 421.24 527.39 420.64 C527.09 420.04 526.90 419.42 526.51 418.89 C526.13 418.37 525.55 418.00 525.11 417.50 C524.66 417.00 524.04 416.51 523.86 415.89 C523.69 415.27 524.01 414.45 524.06 413.78 C524.11 413.11 524.26 412.48 524.15 411.85 C524.05 411.22 523.64 410.64 523.44 410.00 C523.24 409.36 522.87 408.64 522.95 408.00 C523.03 407.37 523.58 406.76 523.91 406.18 C524.24 405.60 524.71 405.12 524.92 404.51 C525.13 403.90 525.04 403.19 525.19 402.54 C525.34 401.89 525.41 401.12 525.81 400.62 C526.21 400.12 527.05 399.92 527.59 399.54 C528.13 399.15 528.61 398.79 529.06 398.32 C529.50 397.85 529.80 397.23 530.23 396.72 C530.66 396.20 531.07 395.53 531.65 395.24 C532.23 394.95 533.03 395.02 533.71 394.99 C534.39 394.97 535.10 395.23 535.73 395.10 C536.36 394.97 536.87 394.46 537.48 394.20 C538.09 393.94 538.76 393.58 539.40 393.55 C540.04 393.52 540.72 393.80 541.34 394.02 C541.96 394.24 542.51 394.70 543.13 394.86 C543.76 395.02 544.42 394.93 545.09 394.99 C545.76 395.05 546.60 394.90 547.15 395.23 C547.70 395.56 547.95 396.46 548.39 396.98 C548.82 397.49 549.28 397.89 549.76 398.30 C550.25 398.72 550.74 399.08 551.30 399.45 C551.86 399.83 552.72 400.02 553.12 400.53 C553.51 401.04 553.57 401.84 553.68 402.50 C553.80 403.17 553.59 403.93 553.81 404.54 C554.03 405.14 554.71 405.57 555.01 406.15 C555.32 406.73 555.60 407.38 555.65 408.03 C555.71 408.67 555.47 409.36 555.34 410.00Z" fill="#f9e3df" stroke="#f6d9d4" stroke-width="0.9"/>
<ellipse cx="539.4" cy="410" rx="5.6" ry="5.94" fill="#f4d6d0"/>
</g>
<g opacity="1">
<path d="M555.74 320.50 C555.51 321.35 555.12 322.11 555.11 322.97 C555.09 323.82 555.65 324.77 555.63 325.63 C555.60 326.50 555.33 327.37 554.96 328.15 C554.60 328.92 554.03 329.64 553.46 330.29 C552.89 330.94 551.98 331.32 551.54 332.05 C551.10 332.79 551.17 333.87 550.80 334.67 C550.43 335.48 549.97 336.34 549.30 336.86 C548.62 337.39 547.61 337.58 546.76 337.82 C545.90 338.07 544.91 337.94 544.17 338.35 C543.42 338.75 542.99 339.70 542.29 340.26 C541.60 340.82 540.86 341.55 540.03 341.70 C539.20 341.86 538.18 341.31 537.31 341.18 C536.44 341.06 535.64 340.91 534.80 340.96 C533.96 341.01 533.13 341.33 532.25 341.48 C531.38 341.63 530.32 342.16 529.54 341.85 C528.75 341.54 528.25 340.18 527.54 339.64 C526.83 339.10 526.09 338.89 525.30 338.60 C524.51 338.31 523.57 338.25 522.79 337.90 C522.01 337.55 521.21 337.11 520.61 336.52 C520.00 335.93 519.54 335.13 519.16 334.35 C518.78 333.58 518.83 332.55 518.33 331.87 C517.83 331.19 516.78 330.90 516.16 330.28 C515.54 329.66 514.83 328.97 514.61 328.16 C514.39 327.35 514.79 326.29 514.83 325.42 C514.87 324.55 515.02 323.74 514.86 322.92 C514.70 322.10 514.15 321.34 513.85 320.50 C513.55 319.66 512.87 318.68 513.04 317.86 C513.21 317.04 514.38 316.34 514.88 315.59 C515.38 314.84 515.79 314.18 516.02 313.38 C516.25 312.57 516.13 311.65 516.25 310.76 C516.36 309.87 516.23 308.70 516.73 308.03 C517.22 307.35 518.48 307.18 519.22 306.70 C519.97 306.22 520.65 305.81 521.20 305.15 C521.76 304.50 521.99 303.44 522.58 302.79 C523.16 302.15 523.90 301.56 524.72 301.29 C525.53 301.01 526.58 301.20 527.45 301.13 C528.33 301.06 529.16 301.12 529.96 300.86 C530.76 300.60 531.45 299.94 532.26 299.58 C533.07 299.23 533.95 298.74 534.80 298.74 C535.65 298.74 536.53 299.24 537.34 299.58 C538.15 299.92 538.82 300.63 539.66 300.79 C540.50 300.94 541.49 300.46 542.38 300.51 C543.27 300.55 544.28 300.61 545.00 301.07 C545.72 301.52 546.17 302.53 546.72 303.23 C547.28 303.92 547.67 304.70 548.33 305.23 C549.00 305.76 550.02 305.89 550.71 306.41 C551.39 306.92 552.05 307.57 552.45 308.32 C552.86 309.06 552.88 310.06 553.13 310.88 C553.39 311.70 553.61 312.46 553.99 313.22 C554.36 313.98 554.96 314.66 555.37 315.43 C555.78 316.20 556.39 317.03 556.46 317.87 C556.52 318.72 555.96 319.65 555.74 320.50Z" fill="#f3bdb5" stroke="#eeaaa2" stroke-width="0.9"/>
<circle cx="547.9" cy="314.0" r="0.7" fill="#eeaaa2" opacity="0.9"/>
<circle cx="532.8" cy="309.7" r="0.7" fill="#eeaaa2" opacity="0.9"/>
<circle cx="520.8" cy="326.0" r="0.7" fill="#eeaaa2" opacity="0.9"/>
<circle cx="527.3" cy="333.4" r="0.7" fill="#eeaaa2" opacity="0.9"/>
<circle cx="528.0" cy="304.8" r="0.7" fill="#eeaaa2" opacity="0.9"/>
<circle cx="547.9" cy="329.7" r="0.7" fill="#eeaaa2" opacity="0.9"/>
<circle cx="528.0" cy="330.7" r="0.7" fill="#eeaaa2" opacity="0.9"/>
<circle cx="550.7" cy="320.0" r="0.7" fill="#eeaaa2" opacity="0.9"/>
<circle cx="524.1" cy="324.1" r="0.7" fill="#eeaaa2" opacity="0.9"/>
<circle cx="545.3" cy="318.4" r="0.7" fill="#eeaaa2" opacity="0.9"/>
<circle cx="537.7" cy="331.4" r="0.7" fill="#eeaaa2" opacity="0.9"/>
<circle cx="539.4" cy="303.7" r="0.7" fill="#eeaaa2" opacity="0.9"/>
<circle cx="540.5" cy="310.2" r="0.7" fill="#eeaaa2" opacity="0.9"/>
<circle cx="517.4" cy="320.0" r="0.7" fill="#eeaaa2" opacity="0.9"/>
<ellipse cx="534.2" cy="325.6" rx="8.3" ry="8.80" fill="#da9c90"/>
</g>
<g opacity="1">
<path d="M521.78 383.00 C521.75 383.79 521.00 384.58 520.70 385.34 C520.40 386.11 520.09 386.79 519.99 387.58 C519.89 388.37 520.19 389.28 520.09 390.09 C519.99 390.90 519.92 391.84 519.39 392.44 C518.87 393.05 517.57 393.20 516.94 393.73 C516.31 394.25 516.02 394.91 515.60 395.58 C515.19 396.25 514.90 397.05 514.45 397.73 C514.00 398.41 513.59 399.28 512.90 399.65 C512.20 400.02 511.09 399.77 510.29 399.95 C509.50 400.12 508.80 400.32 508.11 400.70 C507.42 401.09 506.86 401.89 506.15 402.27 C505.44 402.65 504.62 402.98 503.83 403.00 C503.04 403.01 502.19 402.53 501.40 402.37 C500.61 402.21 499.88 402.08 499.09 402.04 C498.30 402.01 497.49 402.17 496.68 402.16 C495.86 402.15 494.92 402.29 494.21 401.96 C493.49 401.63 492.97 400.76 492.38 400.18 C491.80 399.60 491.36 398.92 490.70 398.50 C490.04 398.08 489.12 398.04 488.40 397.67 C487.68 397.31 486.84 396.94 486.36 396.33 C485.87 395.71 485.77 394.74 485.49 393.98 C485.21 393.23 485.06 392.46 484.65 391.79 C484.24 391.12 483.52 390.62 483.04 389.96 C482.56 389.31 481.86 388.62 481.77 387.84 C481.67 387.06 482.38 386.11 482.46 385.30 C482.55 384.49 482.37 383.78 482.28 383.00 C482.18 382.22 481.99 381.44 481.91 380.63 C481.84 379.83 481.56 378.91 481.83 378.18 C482.10 377.44 483.10 376.91 483.53 376.22 C483.96 375.54 484.13 374.81 484.41 374.09 C484.70 373.36 484.96 372.62 485.26 371.86 C485.56 371.10 485.61 370.05 486.19 369.52 C486.76 368.99 487.96 369.02 488.72 368.68 C489.47 368.35 490.11 368.02 490.71 367.51 C491.30 366.99 491.67 366.15 492.27 365.60 C492.86 365.05 493.53 364.45 494.27 364.21 C495.02 363.96 495.95 364.18 496.75 364.14 C497.55 364.09 498.31 364.15 499.09 363.95 C499.86 363.75 500.61 363.08 501.40 362.92 C502.19 362.76 503.07 362.71 503.83 362.98 C504.59 363.25 505.24 364.14 505.95 364.53 C506.66 364.92 507.32 365.19 508.10 365.33 C508.89 365.47 509.88 365.16 510.65 365.37 C511.43 365.57 512.14 366.04 512.75 366.56 C513.36 367.07 513.87 367.75 514.31 368.43 C514.74 369.11 514.82 370.06 515.36 370.63 C515.91 371.19 516.97 371.31 517.59 371.83 C518.20 372.35 518.78 373.00 519.04 373.74 C519.31 374.48 519.07 375.47 519.15 376.27 C519.22 377.07 519.21 377.81 519.50 378.54 C519.80 379.26 520.55 379.89 520.93 380.63 C521.31 381.37 521.82 382.21 521.78 383.00Z" fill="#f3bdb5" stroke="#eeaaa2" stroke-width="0.9"/>
<circle cx="489.2" cy="380.0" r="0.7" fill="#eeaaa2" opacity="0.9"/>
<circle cx="511.1" cy="372.1" r="0.7" fill="#eeaaa2" opacity="0.9"/>
<circle cx="512.7" cy="381.6" r="0.7" fill="#eeaaa2" opacity="0.9"/>
<circle cx="508.2" cy="375.4" r="0.7" fill="#eeaaa2" opacity="0.9"/>
<circle cx="499.1" cy="394.9" r="0.7" fill="#eeaaa2" opacity="0.9"/>
<circle cx="492.0" cy="380.1" r="0.7" fill="#eeaaa2" opacity="0.9"/>
<circle cx="502.8" cy="392.9" r="0.7" fill="#eeaaa2" opacity="0.9"/>
<circle cx="490.3" cy="389.2" r="0.7" fill="#eeaaa2" opacity="0.9"/>
<circle cx="491.1" cy="384.1" r="0.7" fill="#eeaaa2" opacity="0.9"/>
<circle cx="492.9" cy="370.5" r="0.7" fill="#eeaaa2" opacity="0.9"/>
<circle cx="506.2" cy="366.7" r="0.7" fill="#eeaaa2" opacity="0.9"/>
<circle cx="486.0" cy="386.5" r="0.7" fill="#eeaaa2" opacity="0.9"/>
<circle cx="500.3" cy="372.1" r="0.7" fill="#eeaaa2" opacity="0.9"/>
<circle cx="489.1" cy="381.1" r="0.7" fill="#eeaaa2" opacity="0.9"/>
<ellipse cx="504" cy="381.8" rx="8.3" ry="8.80" fill="#da9c90"/>
</g>
<g opacity="1">
<path d="M583.15 379.00 C583.10 379.68 583.43 380.32 583.59 381.03 C583.75 381.73 584.17 382.55 584.10 383.24 C584.03 383.93 583.62 384.61 583.19 385.18 C582.75 385.75 581.89 386.09 581.48 386.65 C581.07 387.22 580.99 387.90 580.74 388.55 C580.49 389.21 580.38 390.03 579.98 390.59 C579.58 391.15 578.99 391.62 578.35 391.92 C577.71 392.22 576.74 392.05 576.14 392.38 C575.53 392.71 575.23 393.40 574.73 393.92 C574.23 394.43 573.76 395.16 573.14 395.45 C572.52 395.74 571.71 395.67 571.00 395.64 C570.29 395.61 569.56 395.24 568.88 395.28 C568.19 395.32 567.58 395.69 566.90 395.87 C566.22 396.06 565.49 396.37 564.79 396.38 C564.09 396.40 563.35 396.27 562.72 395.97 C562.08 395.68 561.59 394.95 560.98 394.61 C560.36 394.28 559.69 394.21 559.03 393.99 C558.38 393.76 557.63 393.64 557.05 393.26 C556.48 392.89 556.01 392.32 555.61 391.75 C555.21 391.18 555.07 390.39 554.66 389.84 C554.26 389.30 553.74 388.92 553.17 388.48 C552.61 388.04 551.70 387.75 551.28 387.20 C550.85 386.65 550.68 385.88 550.62 385.18 C550.55 384.47 550.96 383.64 550.89 382.95 C550.82 382.26 550.46 381.69 550.20 381.03 C549.94 380.37 549.35 379.68 549.32 379.00 C549.29 378.32 549.75 377.61 550.01 376.95 C550.28 376.29 550.68 375.70 550.91 375.06 C551.13 374.42 551.29 373.81 551.37 373.11 C551.46 372.41 551.15 371.50 551.41 370.87 C551.66 370.24 552.39 369.82 552.91 369.34 C553.43 368.87 554.06 368.54 554.52 368.03 C554.98 367.53 555.23 366.85 555.65 366.30 C556.08 365.76 556.53 365.18 557.06 364.75 C557.60 364.31 558.18 363.84 558.87 363.69 C559.55 363.54 560.48 363.99 561.15 363.84 C561.82 363.69 562.30 363.15 562.91 362.81 C563.52 362.46 564.14 361.97 564.81 361.76 C565.47 361.55 566.22 361.44 566.90 361.57 C567.58 361.70 568.22 362.38 568.90 362.55 C569.57 362.71 570.26 362.51 570.96 362.54 C571.65 362.57 572.40 362.55 573.07 362.73 C573.74 362.92 574.43 363.19 574.97 363.63 C575.51 364.07 575.80 364.90 576.31 365.37 C576.82 365.84 577.37 366.15 578.01 366.46 C578.66 366.77 579.67 366.78 580.19 367.23 C580.71 367.68 580.95 368.47 581.15 369.17 C581.34 369.86 581.12 370.76 581.38 371.40 C581.63 372.04 582.24 372.45 582.67 373.02 C583.09 373.59 583.72 374.15 583.92 374.80 C584.12 375.46 584.01 376.24 583.88 376.94 C583.75 377.64 583.20 378.32 583.15 379.00Z" fill="#f3bdb5" stroke="#eeaaa2" stroke-width="0.9"/>
<circle cx="570.5" cy="393.1" r="0.7" fill="#eeaaa2" opacity="0.9"/>
<circle cx="556.3" cy="374.3" r="0.7" fill="#eeaaa2" opacity="0.9"/>
<circle cx="562.5" cy="367.4" r="0.7" fill="#eeaaa2" opacity="0.9"/>
<circle cx="564.8" cy="390.0" r="0.7" fill="#eeaaa2" opacity="0.9"/>
<circle cx="565.6" cy="393.6" r="0.7" fill="#eeaaa2" opacity="0.9"/>
<circle cx="580.3" cy="385.4" r="0.7" fill="#eeaaa2" opacity="0.9"/>
<circle cx="568.5" cy="392.4" r="0.7" fill="#eeaaa2" opacity="0.9"/>
<circle cx="567.7" cy="368.7" r="0.7" fill="#eeaaa2" opacity="0.9"/>
<circle cx="554.9" cy="376.2" r="0.7" fill="#eeaaa2" opacity="0.9"/>
<circle cx="560.3" cy="370.3" r="0.7" fill="#eeaaa2" opacity="0.9"/>
<circle cx="573.3" cy="366.8" r="0.7" fill="#eeaaa2" opacity="0.9"/>
<circle cx="557.6" cy="388.0" r="0.7" fill="#eeaaa2" opacity="0.9"/>
<circle cx="564.6" cy="366.0" r="0.7" fill="#eeaaa2" opacity="0.9"/>
<circle cx="558.0" cy="388.6" r="0.7" fill="#eeaaa2" opacity="0.9"/>
<ellipse cx="561.7" cy="377.7" rx="8.3" ry="8.80" fill="#da9c90"/>
</g>
<g opacity="1">
<path d="M533.75 350.40 C533.57 351.31 533.83 352.16 533.88 353.07 C533.93 353.98 534.11 354.94 534.05 355.86 C533.99 356.78 534.01 357.83 533.54 358.61 C533.06 359.38 531.79 359.81 531.21 360.54 C530.63 361.26 530.43 362.10 530.06 362.94 C529.70 363.78 529.52 364.81 529.03 365.57 C528.53 366.34 527.88 367.09 527.09 367.54 C526.29 367.99 525.09 367.92 524.25 368.29 C523.41 368.66 522.75 369.13 522.07 369.77 C521.38 370.42 520.92 371.65 520.15 372.15 C519.37 372.64 518.33 372.67 517.40 372.72 C516.47 372.77 515.49 372.49 514.58 372.45 C513.66 372.40 512.81 372.33 511.90 372.45 C510.99 372.57 510.06 373.09 509.14 373.15 C508.22 373.21 507.21 373.19 506.38 372.81 C505.54 372.43 504.89 371.42 504.13 370.89 C503.36 370.37 502.69 369.90 501.79 369.66 C500.90 369.42 499.59 369.81 498.77 369.43 C497.94 369.05 497.40 368.13 496.86 367.37 C496.33 366.61 496.09 365.61 495.57 364.86 C495.06 364.12 494.49 363.52 493.78 362.91 C493.07 362.30 491.94 361.90 491.33 361.20 C490.72 360.49 490.23 359.59 490.10 358.67 C489.97 357.74 490.52 356.60 490.57 355.66 C490.61 354.72 490.68 353.89 490.38 353.01 C490.09 352.14 489.00 351.29 488.81 350.40 C488.62 349.51 488.95 348.53 489.23 347.65 C489.51 346.77 490.17 345.98 490.48 345.12 C490.79 344.26 490.88 343.39 491.09 342.51 C491.29 341.62 491.40 340.67 491.69 339.79 C491.98 338.91 492.16 337.86 492.82 337.23 C493.47 336.59 494.84 336.49 495.62 335.97 C496.39 335.45 496.93 334.86 497.46 334.10 C497.99 333.34 498.16 332.08 498.79 331.41 C499.42 330.74 500.34 330.30 501.23 330.08 C502.13 329.85 503.28 330.21 504.19 330.06 C505.09 329.91 505.85 329.62 506.67 329.20 C507.50 328.77 508.25 327.83 509.12 327.51 C509.99 327.19 511.00 327.04 511.90 327.27 C512.80 327.50 513.64 328.58 514.51 328.89 C515.39 329.20 516.22 329.12 517.14 329.13 C518.06 329.14 519.11 328.83 520.03 328.96 C520.95 329.09 521.96 329.30 522.66 329.89 C523.36 330.49 523.59 331.87 524.24 332.52 C524.90 333.17 525.81 333.35 526.59 333.82 C527.38 334.28 528.22 334.73 528.96 335.29 C529.70 335.85 530.65 336.37 531.03 337.20 C531.41 338.02 530.96 339.36 531.24 340.25 C531.53 341.13 532.19 341.73 532.74 342.50 C533.29 343.26 534.16 343.97 534.53 344.82 C534.90 345.67 535.10 346.67 534.97 347.60 C534.84 348.53 533.93 349.49 533.75 350.40Z" fill="#eea79e" stroke="#df8c84" stroke-width="0.9"/>
<circle cx="516.8" cy="364.6" r="0.7" fill="#df8c84" opacity="0.9"/>
<circle cx="505.2" cy="360.5" r="0.7" fill="#df8c84" opacity="0.9"/>
<circle cx="501.0" cy="346.5" r="0.7" fill="#df8c84" opacity="0.9"/>
<circle cx="500.5" cy="338.5" r="0.7" fill="#df8c84" opacity="0.9"/>
<circle cx="528.0" cy="350.4" r="0.7" fill="#df8c84" opacity="0.9"/>
<circle cx="493.9" cy="348.2" r="0.7" fill="#df8c84" opacity="0.9"/>
<circle cx="521.1" cy="338.2" r="0.7" fill="#df8c84" opacity="0.9"/>
<circle cx="529.4" cy="353.2" r="0.7" fill="#df8c84" opacity="0.9"/>
<circle cx="526.6" cy="356.5" r="0.7" fill="#df8c84" opacity="0.9"/>
<circle cx="499.1" cy="336.8" r="0.7" fill="#df8c84" opacity="0.9"/>
<circle cx="518.9" cy="336.9" r="0.7" fill="#df8c84" opacity="0.9"/>
<circle cx="524.8" cy="347.6" r="0.7" fill="#df8c84" opacity="0.9"/>
<circle cx="526.1" cy="342.7" r="0.7" fill="#df8c84" opacity="0.9"/>
<circle cx="500.0" cy="352.2" r="0.7" fill="#df8c84" opacity="0.9"/>
<ellipse cx="513.2" cy="353" rx="9.3" ry="9.86" fill="#c87867"/>
</g>
<g opacity="1">
<path d="M578.99 347.80 C578.99 348.70 578.49 349.65 578.13 350.51 C577.77 351.38 577.08 352.12 576.84 352.99 C576.60 353.85 576.75 354.78 576.69 355.72 C576.63 356.67 576.88 357.84 576.49 358.66 C576.09 359.47 575.09 360.02 574.34 360.60 C573.60 361.18 572.65 361.53 572.00 362.15 C571.35 362.77 570.92 363.50 570.45 364.33 C569.97 365.16 569.83 366.55 569.14 367.12 C568.44 367.69 567.21 367.57 566.28 367.77 C565.36 367.98 564.47 368.13 563.60 368.37 C562.73 368.60 561.91 368.81 561.07 369.18 C560.23 369.54 559.44 370.35 558.56 370.56 C557.69 370.78 556.70 370.65 555.80 370.45 C554.90 370.24 554.08 369.46 553.19 369.33 C552.29 369.19 551.38 369.54 550.42 369.62 C549.47 369.70 548.33 370.07 547.46 369.78 C546.60 369.50 545.90 368.61 545.25 367.91 C544.59 367.20 544.25 366.13 543.53 365.58 C542.81 365.03 541.77 365.00 540.91 364.60 C540.06 364.21 539.02 363.88 538.41 363.21 C537.80 362.54 537.55 361.49 537.26 360.60 C536.96 359.71 536.99 358.68 536.66 357.85 C536.33 357.01 535.86 356.33 535.26 355.59 C534.66 354.85 533.36 354.25 533.08 353.40 C532.80 352.55 533.37 351.43 533.57 350.50 C533.77 349.57 534.27 348.70 534.27 347.80 C534.27 346.90 533.77 346.03 533.58 345.10 C533.39 344.17 532.98 343.11 533.13 342.21 C533.29 341.32 533.95 340.48 534.50 339.72 C535.06 338.96 536.01 338.44 536.47 337.66 C536.94 336.87 537.00 335.93 537.28 335.02 C537.56 334.10 537.62 332.92 538.16 332.18 C538.71 331.44 539.65 330.94 540.54 330.57 C541.43 330.21 542.67 330.38 543.49 329.97 C544.32 329.57 544.79 328.76 545.48 328.14 C546.17 327.53 546.82 326.67 547.64 326.28 C548.45 325.89 549.45 325.78 550.38 325.81 C551.31 325.83 552.30 326.54 553.21 326.44 C554.11 326.34 554.90 325.52 555.80 325.20 C556.70 324.89 557.73 324.42 558.62 324.54 C559.52 324.66 560.37 325.47 561.19 325.94 C562.01 326.41 562.71 327.02 563.55 327.35 C564.39 327.69 565.34 327.68 566.23 327.93 C567.11 328.19 568.07 328.42 568.86 328.88 C569.65 329.33 570.43 329.92 570.99 330.65 C571.54 331.39 571.66 332.53 572.19 333.28 C572.71 334.03 573.39 334.55 574.14 335.14 C574.89 335.74 576.23 336.07 576.66 336.85 C577.10 337.64 576.77 338.88 576.76 339.85 C576.75 340.82 576.38 341.80 576.60 342.67 C576.82 343.55 577.69 344.24 578.09 345.09 C578.49 345.95 578.98 346.90 578.99 347.80Z" fill="#eea79e" stroke="#df8c84" stroke-width="0.9"/>
<circle cx="564.7" cy="359.2" r="0.7" fill="#df8c84" opacity="0.9"/>
<circle cx="568.3" cy="351.4" r="0.7" fill="#df8c84" opacity="0.9"/>
<circle cx="548.8" cy="336.7" r="0.7" fill="#df8c84" opacity="0.9"/>
<circle cx="558.3" cy="330.5" r="0.7" fill="#df8c84" opacity="0.9"/>
<circle cx="574.4" cy="349.5" r="0.7" fill="#df8c84" opacity="0.9"/>
<circle cx="544.5" cy="349.7" r="0.7" fill="#df8c84" opacity="0.9"/>
<circle cx="544.9" cy="357.2" r="0.7" fill="#df8c84" opacity="0.9"/>
<circle cx="540.7" cy="341.9" r="0.7" fill="#df8c84" opacity="0.9"/>
<circle cx="569.5" cy="336.1" r="0.7" fill="#df8c84" opacity="0.9"/>
<circle cx="549.7" cy="331.1" r="0.7" fill="#df8c84" opacity="0.9"/>
<circle cx="547.9" cy="357.5" r="0.7" fill="#df8c84" opacity="0.9"/>
<circle cx="543.1" cy="352.5" r="0.7" fill="#df8c84" opacity="0.9"/>
<circle cx="538.8" cy="338.8" r="0.7" fill="#df8c84" opacity="0.9"/>
<circle cx="544.5" cy="338.5" r="0.7" fill="#df8c84" opacity="0.9"/>
<ellipse cx="557.5" cy="349.4" rx="9.3" ry="9.86" fill="#c87867"/>
</g>
<g opacity="1">
<path d="M561.38 387.00 C561.08 387.94 559.87 388.77 559.61 389.70 C559.36 390.62 559.73 391.53 559.86 392.54 C560.00 393.54 560.65 394.81 560.42 395.73 C560.19 396.65 559.26 397.40 558.50 398.07 C557.74 398.74 556.50 399.03 555.87 399.75 C555.25 400.47 555.11 401.43 554.75 402.37 C554.39 403.31 554.34 404.70 553.69 405.39 C553.04 406.07 551.83 406.24 550.85 406.48 C549.86 406.72 548.65 406.38 547.80 406.81 C546.95 407.24 546.53 408.45 545.76 409.04 C544.98 409.62 544.07 410.07 543.15 410.34 C542.24 410.60 541.23 410.73 540.27 410.64 C539.31 410.55 538.35 409.88 537.40 409.79 C536.45 409.70 535.58 409.90 534.60 410.09 C533.61 410.28 532.43 411.09 531.51 410.90 C530.59 410.72 529.85 409.58 529.07 408.96 C528.29 408.34 527.60 407.67 526.81 407.17 C526.02 406.67 525.28 406.23 524.33 405.94 C523.37 405.65 521.82 405.99 521.07 405.43 C520.32 404.87 520.23 403.48 519.84 402.56 C519.44 401.64 519.25 400.67 518.71 399.90 C518.16 399.13 517.28 398.63 516.57 397.93 C515.86 397.23 514.75 396.60 514.43 395.71 C514.11 394.82 514.62 393.60 514.65 392.61 C514.68 391.62 514.73 390.70 514.60 389.77 C514.47 388.83 514.07 387.95 513.87 387.00 C513.67 386.05 513.36 385.04 513.41 384.09 C513.47 383.13 513.71 382.13 514.20 381.28 C514.69 380.44 515.88 379.85 516.35 379.02 C516.82 378.18 516.79 377.24 517.00 376.29 C517.20 375.34 517.14 374.16 517.60 373.33 C518.06 372.51 518.99 371.95 519.75 371.36 C520.52 370.78 521.45 370.42 522.19 369.83 C522.93 369.25 523.56 368.63 524.19 367.86 C524.81 367.08 525.17 365.73 525.95 365.18 C526.73 364.63 527.88 364.57 528.89 364.57 C529.90 364.56 531.06 365.26 532.02 365.15 C532.97 365.05 533.70 364.29 534.60 363.93 C535.50 363.57 536.46 363.10 537.40 363.01 C538.34 362.92 539.36 363.09 540.27 363.40 C541.17 363.71 541.95 364.58 542.85 364.88 C543.75 365.17 544.73 365.03 545.68 365.17 C546.63 365.31 547.68 365.37 548.56 365.75 C549.43 366.12 550.29 366.68 550.91 367.42 C551.53 368.16 551.59 369.55 552.28 370.21 C552.96 370.87 554.16 370.90 555.01 371.40 C555.86 371.90 556.85 372.43 557.37 373.21 C557.89 374.00 557.88 375.18 558.15 376.11 C558.41 377.05 558.58 377.96 558.95 378.83 C559.31 379.70 559.91 380.48 560.31 381.35 C560.72 382.23 561.22 383.14 561.40 384.09 C561.58 385.03 561.68 386.06 561.38 387.00Z" fill="#eea79e" stroke="#df8c84" stroke-width="0.9"/>
<circle cx="551.3" cy="388.7" r="0.7" fill="#df8c84" opacity="0.9"/>
<circle cx="518.3" cy="393.8" r="0.7" fill="#df8c84" opacity="0.9"/>
<circle cx="543.7" cy="369.6" r="0.7" fill="#df8c84" opacity="0.9"/>
<circle cx="553.8" cy="390.6" r="0.7" fill="#df8c84" opacity="0.9"/>
<circle cx="535.0" cy="400.0" r="0.7" fill="#df8c84" opacity="0.9"/>
<circle cx="548.1" cy="392.4" r="0.7" fill="#df8c84" opacity="0.9"/>
<circle cx="536.1" cy="374.1" r="0.7" fill="#df8c84" opacity="0.9"/>
<circle cx="541.3" cy="372.1" r="0.7" fill="#df8c84" opacity="0.9"/>
<circle cx="552.4" cy="392.5" r="0.7" fill="#df8c84" opacity="0.9"/>
<circle cx="522.6" cy="394.3" r="0.7" fill="#df8c84" opacity="0.9"/>
<circle cx="550.8" cy="375.8" r="0.7" fill="#df8c84" opacity="0.9"/>
<circle cx="543.3" cy="403.9" r="0.7" fill="#df8c84" opacity="0.9"/>
<circle cx="518.6" cy="384.7" r="0.7" fill="#df8c84" opacity="0.9"/>
<circle cx="552.8" cy="391.8" r="0.7" fill="#df8c84" opacity="0.9"/>
<ellipse cx="538.4" cy="389.6" rx="9.3" ry="9.86" fill="#c87867"/>
</g>
</g>
</g>
<g id="panelB">
<text x="971.3" y="29.9" font-size="43" font-weight="bold" text-anchor="start" fill="#000" textLength="26.6" lengthAdjust="spacingAndGlyphs">B</text>
<text x="942" y="308.6" font-size="26.8" font-weight="bold" text-anchor="start" fill="#000" textLength="236.5" lengthAdjust="spacingAndGlyphs" transform="rotate(-90 942 308.6)">Percentage survival</text>
<path d="M1009.5 50 V361.4 M1008.1 360 H1472.8" fill="none" stroke="#000" stroke-width="2.8"/>
<line x1="1000.5" y1="360.0" x2="1009.5" y2="360.0" stroke="#000" stroke-width="2.4"/>
<text x="995.6" y="368.6" font-size="24" font-weight="bold" text-anchor="end" fill="#000" textLength="12.1" lengthAdjust="spacingAndGlyphs">0</text>
<line x1="1000.5" y1="303.75" x2="1009.5" y2="303.75" stroke="#000" stroke-width="2.4"/>
<text x="995.6" y="312.35" font-size="24" font-weight="bold" text-anchor="end" fill="#000" textLength="24.2" lengthAdjust="spacingAndGlyphs">20</text>
<line x1="1000.5" y1="247.5" x2="1009.5" y2="247.5" stroke="#000" stroke-width="2.4"/>
<text x="995.6" y="256.1" font-size="24" font-weight="bold" text-anchor="end" fill="#000" textLength="24.2" lengthAdjust="spacingAndGlyphs">40</text>
<line x1="1000.5" y1="191.25" x2="1009.5" y2="191.25" stroke="#000" stroke-width="2.4"/>
<text x="995.6" y="199.85" font-size="24" font-weight="bold" text-anchor="end" fill="#000" textLength="24.2" lengthAdjust="spacingAndGlyphs">60</text>
<line x1="1000.5" y1="135.0" x2="1009.5" y2="135.0" stroke="#000" stroke-width="2.4"/>
<text x="995.6" y="143.6" font-size="24" font-weight="bold" text-anchor="end" fill="#000" textLength="24.2" lengthAdjust="spacingAndGlyphs">80</text>
<line x1="1000.5" y1="78.75" x2="1009.5" y2="78.75" stroke="#000" stroke-width="2.4"/>
<text x="995.6" y="87.35" font-size="24" font-weight="bold" text-anchor="end" fill="#000" textLength="36.3" lengthAdjust="spacingAndGlyphs">100</text>
<line x1="1009.5" y1="360" x2="1009.5" y2="370.5" stroke="#000" stroke-width="2.4"/>
<text x="1009.5" y="396" font-size="24" font-weight="bold" text-anchor="middle" fill="#000">0</text>
<line x1="1055.7" y1="360" x2="1055.7" y2="370.5" stroke="#000" stroke-width="2.4"/>
<text x="1055.7" y="396" font-size="24" font-weight="bold" text-anchor="middle" fill="#000">3</text>
<line x1="1101.9" y1="360" x2="1101.9" y2="370.5" stroke="#000" stroke-width="2.4"/>
<text x="1101.9" y="396" font-size="24" font-weight="bold" text-anchor="middle" fill="#000">6</text>
<line x1="1148.1" y1="360" x2="1148.1" y2="370.5" stroke="#000" stroke-width="2.4"/>
<text x="1148.1" y="396" font-size="24" font-weight="bold" text-anchor="middle" fill="#000">9</text>
<line x1="1194.3" y1="360" x2="1194.3" y2="370.5" stroke="#000" stroke-width="2.4"/>
<text x="1194.3" y="396" font-size="24" font-weight="bold" text-anchor="middle" fill="#000">12</text>
<line x1="1240.5" y1="360" x2="1240.5" y2="370.5" stroke="#000" stroke-width="2.4"/>
<text x="1240.5" y="396" font-size="24" font-weight="bold" text-anchor="middle" fill="#000">15</text>
<line x1="1286.7" y1="360" x2="1286.7" y2="370.5" stroke="#000" stroke-width="2.4"/>
<text x="1286.7" y="396" font-size="24" font-weight="bold" text-anchor="middle" fill="#000">18</text>
<line x1="1332.9" y1="360" x2="1332.9" y2="370.5" stroke="#000" stroke-width="2.4"/>
<text x="1332.9" y="396" font-size="24" font-weight="bold" text-anchor="middle" fill="#000">21</text>
<line x1="1379.1" y1="360" x2="1379.1" y2="370.5" stroke="#000" stroke-width="2.4"/>
<text x="1379.1" y="396" font-size="24" font-weight="bold" text-anchor="middle" fill="#000">24</text>
<line x1="1425.3" y1="360" x2="1425.3" y2="370.5" stroke="#000" stroke-width="2.4"/>
<text x="1425.3" y="396" font-size="24" font-weight="bold" text-anchor="middle" fill="#000">27</text>
<line x1="1471.5" y1="360" x2="1471.5" y2="370.5" stroke="#000" stroke-width="2.4"/>
<text x="1471.5" y="396" font-size="24" font-weight="bold" text-anchor="middle" fill="#000">30</text>
<text x="1000" y="422.5" font-size="24" font-weight="bold" text-anchor="start" fill="#000" textLength="470.5" lengthAdjust="spacingAndGlyphs">Days after s.c. challenge with viable cells</text>
<path d="M1008.1 78.75 L1009.5 78.75 L1086.5 78.75 L1086.5 219.38 L1117.3 219.38 L1117.3 360.0" fill="none" stroke="#b3b3b3" stroke-width="2.7" stroke-linejoin="miter"/>
<path d="M1008.1 78.75 L1009.5 78.75 L1163.5 78.75 L1163.5 118.97 L1441.93 118.97" fill="none" stroke="#3c7d0a" stroke-width="2.7" stroke-linejoin="miter"/>
<path d="M1008.1 78.75 L1009.5 78.75 L1071.1 78.75 L1071.1 125.72 L1086.5 125.72 L1086.5 172.41 L1117.3 172.41 L1117.3 219.38 L1441.93 219.38" fill="none" stroke="#3c0b8c" stroke-width="2.7" stroke-linejoin="miter"/>
<path d="M1008.1 78.75 L1009.5 78.75 L1441.93 78.75" fill="none" stroke="#ff0000" stroke-width="2.7" stroke-linejoin="miter"/>
<line x1="1071.1" y1="126.72" x2="1071.1" y2="119.22" stroke="#000" stroke-width="2.4"/>
<line x1="1086.5" y1="173.41" x2="1086.5" y2="165.91" stroke="#000" stroke-width="2.4"/>
<line x1="1086.5" y1="220.38" x2="1086.5" y2="212.88" stroke="#000" stroke-width="2.4"/>
<line x1="1117.3" y1="220.38" x2="1117.3" y2="212.88" stroke="#000" stroke-width="2.4"/>
<line x1="1163.5" y1="119.97" x2="1163.5" y2="112.47" stroke="#000" stroke-width="2.4"/>
<line x1="1440.7" y1="79.75" x2="1440.7" y2="72.25" stroke="#000" stroke-width="2.4"/>
<line x1="1440.7" y1="119.97" x2="1440.7" y2="112.47" stroke="#000" stroke-width="2.4"/>
<line x1="1440.7" y1="220.38" x2="1440.7" y2="212.88" stroke="#000" stroke-width="2.4"/>
<line x1="1117.3" y1="360.0" x2="1117.3" y2="354.0" stroke="#000" stroke-width="2.4"/>
<path d="M1458.5 264.6 H1442.7 V312.2 H1458.5" fill="none" stroke="#7a7a7a" stroke-width="1.1"/>
<path d="M1486.7 223.6 H1470.5 V354.3 H1486.7" fill="none" stroke="#7a7a7a" stroke-width="1.1"/>
<path d="M1510.5 265.9 H1494.3 V354.3 H1510.5" fill="none" stroke="#7a7a7a" stroke-width="1.1"/>
<path d="M1531.6 224.4 H1515.4 V312.2 H1531.6" fill="none" stroke="#7a7a7a" stroke-width="1.1"/>
<text x="1420" y="296.5" font-size="25" font-weight="normal" text-anchor="middle" fill="#000">*</text>
<text x="1454.7" y="296.5" font-size="25" font-weight="normal" text-anchor="middle" fill="#000">*</text>
<text x="1482.7" y="319.9" font-size="25" font-weight="normal" text-anchor="middle" fill="#000">*</text>
<text x="1498.3" y="272.1" font-size="25" font-weight="normal" text-anchor="middle" fill="#000">*</text>
<line x1="1541" y1="224.6" x2="1576.2" y2="224.6" stroke="#ff0000" stroke-width="2.4"/>
<line x1="1558.5" y1="224.6" x2="1558.5" y2="217.79999999999998" stroke="#000" stroke-width="2.4"/>
<text x="1594.5" y="233.6" font-size="24" font-weight="normal" text-anchor="start" fill="#000" textLength="154.5" lengthAdjust="spacingAndGlyphs">PS-PDT (n=6)</text>
<line x1="1541" y1="268.4" x2="1576.2" y2="268.4" stroke="#3c7d0a" stroke-width="2.4"/>
<line x1="1558.5" y1="268.4" x2="1558.5" y2="261.59999999999997" stroke="#000" stroke-width="2.4"/>
<text x="1594.5" y="277.4" font-size="24" font-weight="normal" text-anchor="start" fill="#000" textLength="115.0" lengthAdjust="spacingAndGlyphs">MTX (n=5)</text>
<line x1="1541" y1="312" x2="1576.2" y2="312" stroke="#3c0b8c" stroke-width="2.4"/>
<line x1="1558.5" y1="312" x2="1558.5" y2="305.2" stroke="#000" stroke-width="2.4"/>
<text x="1594.5" y="321" font-size="24" font-weight="normal" text-anchor="start" fill="#000" textLength="93.3" lengthAdjust="spacingAndGlyphs">FT (n=6)</text>
<line x1="1541" y1="358.5" x2="1576.2" y2="358.5" stroke="#b3b3b3" stroke-width="2.4"/>
<line x1="1558.5" y1="358.5" x2="1558.5" y2="351.7" stroke="#000" stroke-width="2.4"/>
<text x="1594.5" y="367.5" font-size="24" font-weight="normal" text-anchor="start" fill="#000" textLength="112.5" lengthAdjust="spacingAndGlyphs">PBS (n=6)</text>
</g>
<g id="panelC">
<text x="38.7" y="572.2" font-size="43.5" font-weight="bold" text-anchor="start" fill="#000" textLength="26" lengthAdjust="spacingAndGlyphs">C</text>
<text x="169.8" y="625.2" font-size="33.2" font-weight="bold" text-anchor="start" fill="#000" textLength="430.5" lengthAdjust="spacingAndGlyphs">Tumor size on challenge site</text>
<text x="61.4" y="1005.6" font-size="29.3" font-weight="bold" textLength="174" lengthAdjust="spacingAndGlyphs" transform="rotate(-90 61.4 1005.6)">Tumor volume</text>
<text x="61.4" y="825.4" font-size="29.3" font-weight="bold" textLength="84" lengthAdjust="spacingAndGlyphs" transform="rotate(-90 61.4 825.4)">(mm<tspan font-size="18" dy="-11">3</tspan><tspan dy="11">)</tspan></text>
<text x="61.4" y="740.6" font-size="28" font-weight="normal" textLength="14.2" lengthAdjust="spacingAndGlyphs" transform="rotate(-90 61.4 740.6)">±</text>
<text x="61.4" y="726" font-size="29.3" font-weight="bold" textLength="90" lengthAdjust="spacingAndGlyphs" transform="rotate(-90 61.4 726)">S.E.M.</text>
<line x1="240.3" y1="982.22" x2="240.3" y2="977.07" stroke="#1a1a1a" stroke-width="2"/>
<line x1="306.1" y1="964.13" x2="306.1" y2="960.0" stroke="#1a1a1a" stroke-width="2"/>
<line x1="339.0" y1="958.1" x2="339.0" y2="952.18" stroke="#1a1a1a" stroke-width="2"/>
<line x1="388.35" y1="933.48" x2="388.35" y2="929.78" stroke="#1a1a1a" stroke-width="2"/>
<line x1="421.25" y1="934.15" x2="421.25" y2="919.82" stroke="#1a1a1a" stroke-width="2"/>
<line x1="454.15" y1="902.16" x2="454.15" y2="871.82" stroke="#1a1a1a" stroke-width="2"/>
<line x1="487.05" y1="887.59" x2="487.05" y2="867.56" stroke="#1a1a1a" stroke-width="2"/>
<line x1="536.4" y1="809.7" x2="536.4" y2="788.62" stroke="#1a1a1a" stroke-width="2"/>
<line x1="552.85" y1="783.07" x2="552.85" y2="751.29" stroke="#1a1a1a" stroke-width="2"/>
<line x1="585.75" y1="695.97" x2="585.75" y2="674.49" stroke="#1a1a1a" stroke-width="2"/>
<line x1="273.2" y1="980.05" x2="273.2" y2="977.78" stroke="#1a1a1a" stroke-width="2"/>
<line x1="437.7" y1="934.15" x2="437.7" y2="924.44" stroke="#1a1a1a" stroke-width="2"/>
<line x1="470.6" y1="929.96" x2="470.6" y2="925.51" stroke="#1a1a1a" stroke-width="2"/>
<line x1="503.5" y1="901.15" x2="503.5" y2="870.4" stroke="#1a1a1a" stroke-width="2"/>
<line x1="536.4" y1="911.88" x2="536.4" y2="884.27" stroke="#1a1a1a" stroke-width="2"/>
<line x1="585.75" y1="882.56" x2="585.75" y2="846.22" stroke="#1a1a1a" stroke-width="2"/>
<line x1="339.0" y1="982.89" x2="339.0" y2="978.49" stroke="#1a1a1a" stroke-width="2"/>
<path d="M134.5 661.5 V998.3 M133.5 997.3 H634.5" fill="none" stroke="#000" stroke-width="2"/>
<line x1="129.5" y1="997.3" x2="134.5" y2="997.3" stroke="#000" stroke-width="2"/>
<text x="126.6" y="1005.9" font-size="25" font-weight="bold" text-anchor="end" fill="#000" textLength="13.4" lengthAdjust="spacingAndGlyphs">0</text>
<line x1="129.5" y1="913.55" x2="134.5" y2="913.55" stroke="#000" stroke-width="2"/>
<text x="126.6" y="922.15" font-size="25" font-weight="bold" text-anchor="end" fill="#000" textLength="40.3" lengthAdjust="spacingAndGlyphs">500</text>
<line x1="129.5" y1="829.8" x2="134.5" y2="829.8" stroke="#000" stroke-width="2"/>
<text x="126.6" y="838.4" font-size="25" font-weight="bold" text-anchor="end" fill="#000" textLength="53.7" lengthAdjust="spacingAndGlyphs">1000</text>
<line x1="129.5" y1="746.05" x2="134.5" y2="746.05" stroke="#000" stroke-width="2"/>
<text x="126.6" y="754.65" font-size="25" font-weight="bold" text-anchor="end" fill="#000" textLength="53.7" lengthAdjust="spacingAndGlyphs">1500</text>
<line x1="129.5" y1="662.3" x2="134.5" y2="662.3" stroke="#000" stroke-width="2"/>
<text x="126.6" y="670.9" font-size="25" font-weight="bold" text-anchor="end" fill="#000" textLength="53.7" lengthAdjust="spacingAndGlyphs">2000</text>
<line x1="174.5" y1="997" x2="174.5" y2="1001.5" stroke="#000" stroke-width="2"/>
<text x="174.5" y="1026.2" font-size="24.6" font-weight="bold" text-anchor="middle" fill="#000" textLength="12.9" lengthAdjust="spacingAndGlyphs">3</text>
<line x1="223.85" y1="997" x2="223.85" y2="1001.5" stroke="#000" stroke-width="2"/>
<text x="223.85" y="1026.2" font-size="24.6" font-weight="bold" text-anchor="middle" fill="#000" textLength="12.9" lengthAdjust="spacingAndGlyphs">6</text>
<line x1="273.2" y1="997" x2="273.2" y2="1001.5" stroke="#000" stroke-width="2"/>
<text x="273.2" y="1026.2" font-size="24.6" font-weight="bold" text-anchor="middle" fill="#000" textLength="12.9" lengthAdjust="spacingAndGlyphs">9</text>
<line x1="322.55" y1="997" x2="322.55" y2="1001.5" stroke="#000" stroke-width="2"/>
<text x="322.55" y="1026.2" font-size="24.6" font-weight="bold" text-anchor="middle" fill="#000" textLength="25.8" lengthAdjust="spacingAndGlyphs">12</text>
<line x1="371.9" y1="997" x2="371.9" y2="1001.5" stroke="#000" stroke-width="2"/>
<text x="371.9" y="1026.2" font-size="24.6" font-weight="bold" text-anchor="middle" fill="#000" textLength="25.8" lengthAdjust="spacingAndGlyphs">15</text>
<line x1="421.25" y1="997" x2="421.25" y2="1001.5" stroke="#000" stroke-width="2"/>
<text x="421.25" y="1026.2" font-size="24.6" font-weight="bold" text-anchor="middle" fill="#000" textLength="25.8" lengthAdjust="spacingAndGlyphs">18</text>
<line x1="470.6" y1="997" x2="470.6" y2="1001.5" stroke="#000" stroke-width="2"/>
<text x="470.6" y="1026.2" font-size="24.6" font-weight="bold" text-anchor="middle" fill="#000" textLength="25.8" lengthAdjust="spacingAndGlyphs">21</text>
<line x1="519.95" y1="997" x2="519.95" y2="1001.5" stroke="#000" stroke-width="2"/>
<text x="519.95" y="1026.2" font-size="24.6" font-weight="bold" text-anchor="middle" fill="#000" textLength="25.8" lengthAdjust="spacingAndGlyphs">24</text>
<line x1="569.3" y1="997" x2="569.3" y2="1001.5" stroke="#000" stroke-width="2"/>
<text x="569.3" y="1026.2" font-size="24.6" font-weight="bold" text-anchor="middle" fill="#000" textLength="25.8" lengthAdjust="spacingAndGlyphs">27</text>
<line x1="266.62" y1="997" x2="602.2" y2="997" stroke="#ff0000" stroke-width="2.6"/>
<line x1="141.6" y1="996.6" x2="266.62" y2="996.6" stroke="#6b5a14" stroke-width="1.6"/>
<path d="M141.6 997.3 L158.05 996.29 L174.5 995.29 L190.95 994.79 L207.4 991.77 L223.85 988.25 L240.3 986.41 L256.75 984.74 L273.2 980.05 L289.65 980.38 L306.1 965.81 L322.55 963.3 L339.0 960.45 L355.45 950.23 L371.9 949.06 L388.35 947.72 L404.8 946.21 L421.25 944.54 L437.7 934.15 L454.15 931.97 L470.6 929.96 L487.05 915.39 L503.5 901.15 L519.95 906.51 L536.4 911.88 L552.85 898.31 L569.3 885.07 L585.75 882.56" fill="none" stroke="#0c0c82" stroke-width="3.2" stroke-linejoin="round"/>
<path d="M141.6 997.3 L158.05 996.96 L174.5 996.46 L190.95 995.29 L207.4 987.58 L223.85 984.74 L240.3 982.22 L256.75 982.22 L273.2 981.05 L289.65 974.02 L306.1 964.13 L322.55 961.29 L339.0 958.1 L355.45 950.9 L371.9 942.69 L388.35 933.48 L404.8 933.65 L421.25 934.15 L437.7 918.91 L454.15 902.16 L470.6 882.23 L487.05 887.59 L503.5 867.32 L519.95 839.01 L536.4 809.7 L552.85 783.07 L569.3 739.35 L585.75 695.97" fill="none" stroke="#9e9e9e" stroke-width="2.4" stroke-linejoin="round"/>
<path d="M259.22 997.3 L273.2 988.25 L289.65 993.62 L306.1 990.77 L322.55 987.58 L339.0 982.89 L355.45 987.25 L371.9 991.1 L388.35 989.76 L404.8 988.25 L421.25 986.91 L437.7 988.92 L454.15 991.1 L470.6 989.76 L487.05 988.25 L503.5 988.76 L519.95 989.26 L536.4 982.89 L552.85 975.86 L569.3 981.89 L585.75 988.25" fill="none" stroke="#0f7d0f" stroke-width="3" stroke-linejoin="round"/>
<text x="118.4" y="1061.6" font-size="26.4" font-weight="bold" text-anchor="start" fill="#000" textLength="532" lengthAdjust="spacingAndGlyphs">Days after s.c. challenge with viable cells</text>
<text x="301.6" y="993.4" font-size="24" font-weight="bold" text-anchor="middle" fill="#1a8f1a">*</text>
<text x="307.7" y="984.2" font-size="21.5" font-weight="bold" text-anchor="start" fill="#1a8f1a" stroke="#1a8f1a" stroke-width="0.7">#</text>
<text x="410" y="984.1" font-size="24" font-weight="bold" text-anchor="middle" fill="#1a8f1a">*</text>
<text x="416.09999999999997" y="974.7" font-size="21.5" font-weight="bold" text-anchor="start" fill="#1a8f1a" stroke="#1a8f1a" stroke-width="0.7">#</text>
<text x="497.5" y="978.7" font-size="24" font-weight="bold" text-anchor="middle" fill="#1a8f1a">*</text>
<text x="503.3" y="969.4" font-size="21.5" font-weight="bold" text-anchor="start" fill="#1a8f1a" stroke="#1a8f1a" stroke-width="0.7">#</text>
<text x="574.7" y="978.7" font-size="24" font-weight="bold" text-anchor="middle" fill="#1a8f1a">*</text>
<text x="580.7" y="969.4" font-size="21.5" font-weight="bold" text-anchor="start" fill="#1a8f1a" stroke="#1a8f1a" stroke-width="0.7">#</text>
</g>
</svg>
</body>
</html>
